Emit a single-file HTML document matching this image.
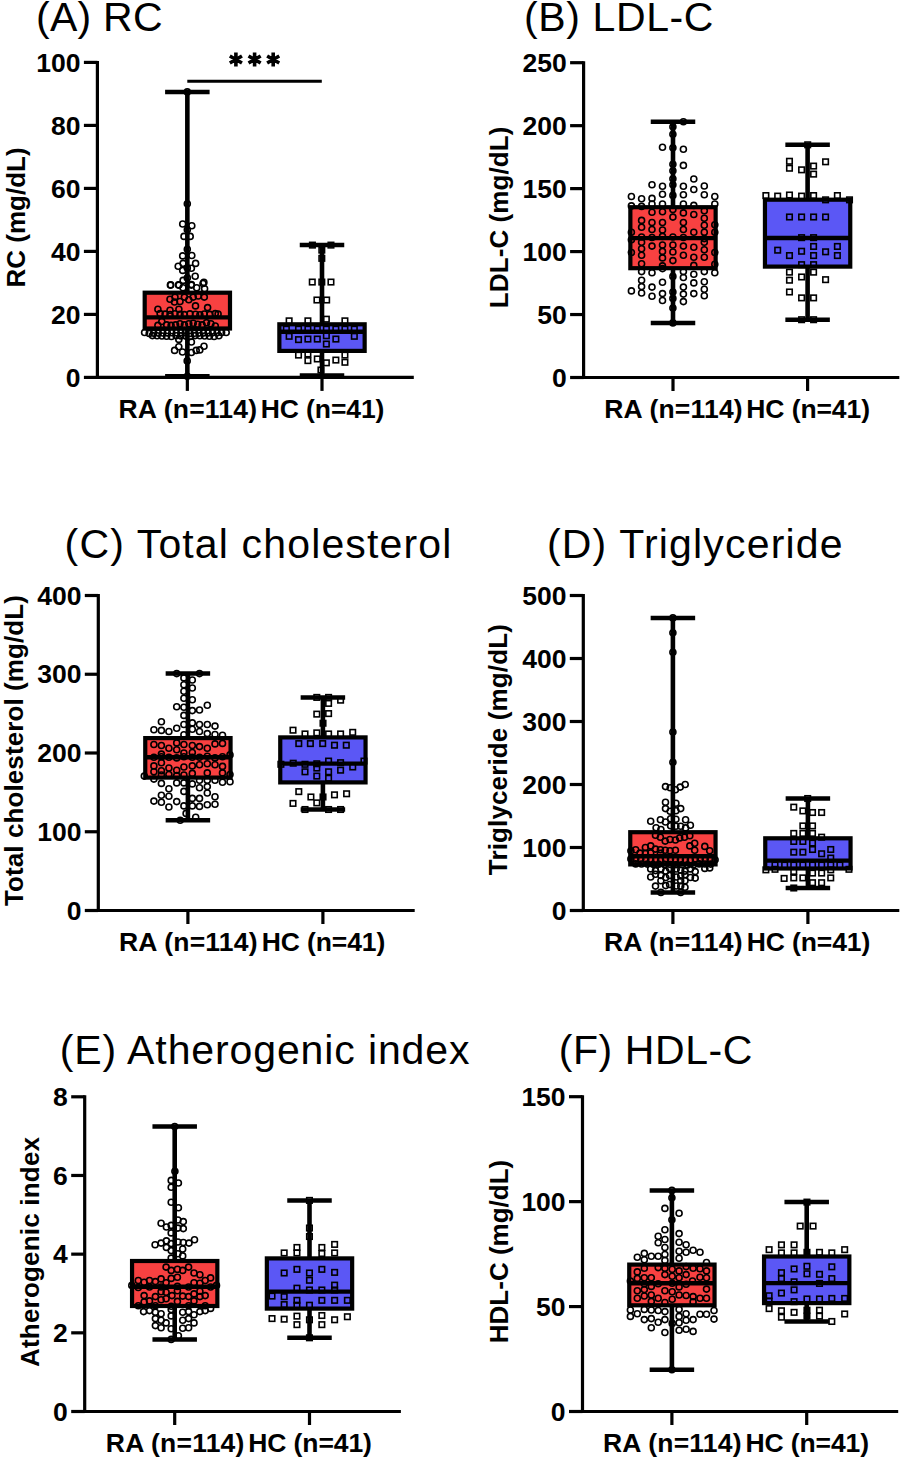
<!DOCTYPE html><html><head><meta charset="utf-8"><style>html,body{margin:0;padding:0;background:#fff;}svg{display:block;}</style></head><body>
<svg width="905" height="1464" viewBox="0 0 905 1464">
<rect width="905" height="1464" fill="#fff"/>
<text x="36.10" y="31.00" font-family="Liberation Sans, sans-serif" font-size="41" letter-spacing="0.235" fill="#000">(A) RC</text>
<text transform="translate(25.00,217.40) rotate(-90)" text-anchor="middle" font-family="Liberation Sans, sans-serif" font-weight="bold" font-size="26" letter-spacing="0" fill="#000">RC (mg/dL)</text>
<path d="M97.40 60.90V377.40H413.80" fill="none" stroke="#000" stroke-width="3.2" stroke-linejoin="miter" stroke-linecap="butt"/>
<path d="M83.90 377.40H97.40" stroke="#000" stroke-width="3.2"/>
<text x="80.50" y="386.52" text-anchor="end" font-family="Liberation Sans, sans-serif" font-weight="bold" font-size="26.5" fill="#000">0</text>
<path d="M83.90 314.40H97.40" stroke="#000" stroke-width="3.2"/>
<text x="80.50" y="323.52" text-anchor="end" font-family="Liberation Sans, sans-serif" font-weight="bold" font-size="26.5" fill="#000">20</text>
<path d="M83.90 251.40H97.40" stroke="#000" stroke-width="3.2"/>
<text x="80.50" y="260.52" text-anchor="end" font-family="Liberation Sans, sans-serif" font-weight="bold" font-size="26.5" fill="#000">40</text>
<path d="M83.90 188.40H97.40" stroke="#000" stroke-width="3.2"/>
<text x="80.50" y="197.52" text-anchor="end" font-family="Liberation Sans, sans-serif" font-weight="bold" font-size="26.5" fill="#000">60</text>
<path d="M83.90 125.40H97.40" stroke="#000" stroke-width="3.2"/>
<text x="80.50" y="134.52" text-anchor="end" font-family="Liberation Sans, sans-serif" font-weight="bold" font-size="26.5" fill="#000">80</text>
<path d="M83.90 62.40H97.40" stroke="#000" stroke-width="3.2"/>
<text x="80.50" y="71.52" text-anchor="end" font-family="Liberation Sans, sans-serif" font-weight="bold" font-size="26.5" fill="#000">100</text>
<path d="M187.35 377.40V390.90" stroke="#000" stroke-width="3.2"/>
<text x="187.85" y="417.90" text-anchor="middle" font-family="Liberation Sans, sans-serif" font-weight="bold" font-size="26.5" letter-spacing="0.2" fill="#000">RA (n=114)</text>
<path d="M322.00 377.40V390.90" stroke="#000" stroke-width="3.2"/>
<text x="322.50" y="417.90" text-anchor="middle" font-family="Liberation Sans, sans-serif" font-weight="bold" font-size="26.5" letter-spacing="-0.1" fill="#000">HC (n=41)</text>
<path d="M187.35 91.90V376.30" stroke="#000" stroke-width="4.6"/>
<path d="M165.10 91.90H209.60M165.10 376.30H209.60" stroke="#000" stroke-width="4.5"/>
<rect x="144.70" y="292.70" width="85.30" height="35.80" fill="#f84141"/>
<circle cx="187.3" cy="203.7" r="3.0" fill="none" stroke="#000" stroke-width="1.6"/>
<circle cx="182.7" cy="224.0" r="3.0" fill="none" stroke="#000" stroke-width="1.6"/>
<circle cx="191.8" cy="225.7" r="3.0" fill="none" stroke="#000" stroke-width="1.6"/>
<circle cx="187.3" cy="229.8" r="3.0" fill="none" stroke="#000" stroke-width="1.6"/>
<circle cx="184.0" cy="236.4" r="3.0" fill="none" stroke="#000" stroke-width="1.6"/>
<circle cx="190.2" cy="236.4" r="3.0" fill="none" stroke="#000" stroke-width="1.6"/>
<circle cx="187.3" cy="249.3" r="3.0" fill="none" stroke="#000" stroke-width="1.6"/>
<circle cx="182.7" cy="255.9" r="3.0" fill="none" stroke="#000" stroke-width="1.6"/>
<circle cx="191.8" cy="255.5" r="3.0" fill="none" stroke="#000" stroke-width="1.6"/>
<circle cx="183.1" cy="263.4" r="3.0" fill="none" stroke="#000" stroke-width="1.6"/>
<circle cx="195.6" cy="263.4" r="3.0" fill="none" stroke="#000" stroke-width="1.6"/>
<circle cx="178.2" cy="266.3" r="3.0" fill="none" stroke="#000" stroke-width="1.6"/>
<circle cx="191.4" cy="268.3" r="3.0" fill="none" stroke="#000" stroke-width="1.6"/>
<circle cx="187.3" cy="267.9" r="3.0" fill="none" stroke="#000" stroke-width="1.6"/>
<circle cx="182.7" cy="270.4" r="3.0" fill="none" stroke="#000" stroke-width="1.6"/>
<circle cx="195.2" cy="276.2" r="3.0" fill="none" stroke="#000" stroke-width="1.6"/>
<circle cx="183.1" cy="280.4" r="3.0" fill="none" stroke="#000" stroke-width="1.6"/>
<circle cx="187.3" cy="277.9" r="3.0" fill="none" stroke="#000" stroke-width="1.6"/>
<circle cx="170.7" cy="284.9" r="3.0" fill="none" stroke="#000" stroke-width="1.6"/>
<circle cx="178.6" cy="284.9" r="3.0" fill="none" stroke="#000" stroke-width="1.6"/>
<circle cx="191.4" cy="284.5" r="3.0" fill="none" stroke="#000" stroke-width="1.6"/>
<circle cx="203.9" cy="282.4" r="3.0" fill="none" stroke="#000" stroke-width="1.6"/>
<circle cx="170.4" cy="285.1" r="3.0" fill="none" stroke="#000" stroke-width="1.6"/>
<circle cx="178.8" cy="285.1" r="3.0" fill="none" stroke="#000" stroke-width="1.6"/>
<circle cx="191.4" cy="285.1" r="3.0" fill="none" stroke="#000" stroke-width="1.6"/>
<circle cx="203.0" cy="283.5" r="3.0" fill="none" stroke="#000" stroke-width="1.6"/>
<circle cx="204.6" cy="288.8" r="3.0" fill="none" stroke="#000" stroke-width="1.6"/>
<circle cx="183.0" cy="287.7" r="3.0" fill="none" stroke="#000" stroke-width="1.6"/>
<circle cx="196.7" cy="287.7" r="3.0" fill="none" stroke="#000" stroke-width="1.6"/>
<circle cx="170.0" cy="299.3" r="3.0" fill="none" stroke="#000" stroke-width="1.6"/>
<circle cx="175.0" cy="297.1" r="3.0" fill="none" stroke="#000" stroke-width="1.6"/>
<circle cx="180.0" cy="301.5" r="3.0" fill="none" stroke="#000" stroke-width="1.6"/>
<circle cx="184.4" cy="297.1" r="3.0" fill="none" stroke="#000" stroke-width="1.6"/>
<circle cx="188.8" cy="299.8" r="3.0" fill="none" stroke="#000" stroke-width="1.6"/>
<circle cx="193.2" cy="297.1" r="3.0" fill="none" stroke="#000" stroke-width="1.6"/>
<circle cx="198.2" cy="296.0" r="3.0" fill="none" stroke="#000" stroke-width="1.6"/>
<circle cx="204.3" cy="297.1" r="3.0" fill="none" stroke="#000" stroke-width="1.6"/>
<circle cx="195.5" cy="305.9" r="3.0" fill="none" stroke="#000" stroke-width="1.6"/>
<circle cx="174.5" cy="302.0" r="3.0" fill="none" stroke="#000" stroke-width="1.6"/>
<circle cx="157.9" cy="309.2" r="3.0" fill="none" stroke="#000" stroke-width="1.6"/>
<circle cx="170.0" cy="310.3" r="3.0" fill="none" stroke="#000" stroke-width="1.6"/>
<circle cx="178.9" cy="309.2" r="3.0" fill="none" stroke="#000" stroke-width="1.6"/>
<circle cx="207.6" cy="307.6" r="3.0" fill="none" stroke="#000" stroke-width="1.6"/>
<circle cx="160.1" cy="313.6" r="3.0" fill="none" stroke="#000" stroke-width="1.6"/>
<circle cx="165.1" cy="314.1" r="3.0" fill="none" stroke="#000" stroke-width="1.6"/>
<circle cx="170.0" cy="314.5" r="3.0" fill="none" stroke="#000" stroke-width="1.6"/>
<circle cx="175.0" cy="313.8" r="3.0" fill="none" stroke="#000" stroke-width="1.6"/>
<circle cx="180.0" cy="314.2" r="3.0" fill="none" stroke="#000" stroke-width="1.6"/>
<circle cx="184.4" cy="314.6" r="3.0" fill="none" stroke="#000" stroke-width="1.6"/>
<circle cx="189.9" cy="313.9" r="3.0" fill="none" stroke="#000" stroke-width="1.6"/>
<circle cx="195.5" cy="314.3" r="3.0" fill="none" stroke="#000" stroke-width="1.6"/>
<circle cx="199.9" cy="314.8" r="3.0" fill="none" stroke="#000" stroke-width="1.6"/>
<circle cx="204.3" cy="314.0" r="3.0" fill="none" stroke="#000" stroke-width="1.6"/>
<circle cx="209.8" cy="314.4" r="3.0" fill="none" stroke="#000" stroke-width="1.6"/>
<circle cx="215.3" cy="313.6" r="3.0" fill="none" stroke="#000" stroke-width="1.6"/>
<circle cx="218.1" cy="314.1" r="3.0" fill="none" stroke="#000" stroke-width="1.6"/>
<circle cx="157.9" cy="325.4" r="3.0" fill="none" stroke="#000" stroke-width="1.6"/>
<circle cx="161.8" cy="321.5" r="3.0" fill="none" stroke="#000" stroke-width="1.6"/>
<circle cx="166.7" cy="324.9" r="3.0" fill="none" stroke="#000" stroke-width="1.6"/>
<circle cx="171.1" cy="325.4" r="3.0" fill="none" stroke="#000" stroke-width="1.6"/>
<circle cx="175.6" cy="324.9" r="3.0" fill="none" stroke="#000" stroke-width="1.6"/>
<circle cx="180.0" cy="323.8" r="3.0" fill="none" stroke="#000" stroke-width="1.6"/>
<circle cx="184.4" cy="324.9" r="3.0" fill="none" stroke="#000" stroke-width="1.6"/>
<circle cx="188.8" cy="323.8" r="3.0" fill="none" stroke="#000" stroke-width="1.6"/>
<circle cx="193.2" cy="323.2" r="3.0" fill="none" stroke="#000" stroke-width="1.6"/>
<circle cx="197.7" cy="324.3" r="3.0" fill="none" stroke="#000" stroke-width="1.6"/>
<circle cx="202.1" cy="324.9" r="3.0" fill="none" stroke="#000" stroke-width="1.6"/>
<circle cx="206.5" cy="322.7" r="3.0" fill="none" stroke="#000" stroke-width="1.6"/>
<circle cx="210.9" cy="323.8" r="3.0" fill="none" stroke="#000" stroke-width="1.6"/>
<circle cx="215.3" cy="326.0" r="3.0" fill="none" stroke="#000" stroke-width="1.6"/>
<circle cx="144.6" cy="332.5" r="3.0" fill="none" stroke="#000" stroke-width="1.6"/>
<circle cx="149.2" cy="333.4" r="3.0" fill="none" stroke="#000" stroke-width="1.6"/>
<circle cx="153.7" cy="333.3" r="3.0" fill="none" stroke="#000" stroke-width="1.6"/>
<circle cx="158.2" cy="333.1" r="3.0" fill="none" stroke="#000" stroke-width="1.6"/>
<circle cx="162.8" cy="333.0" r="3.0" fill="none" stroke="#000" stroke-width="1.6"/>
<circle cx="167.3" cy="332.9" r="3.0" fill="none" stroke="#000" stroke-width="1.6"/>
<circle cx="171.8" cy="332.8" r="3.0" fill="none" stroke="#000" stroke-width="1.6"/>
<circle cx="176.3" cy="332.7" r="3.0" fill="none" stroke="#000" stroke-width="1.6"/>
<circle cx="180.9" cy="332.6" r="3.0" fill="none" stroke="#000" stroke-width="1.6"/>
<circle cx="185.4" cy="332.5" r="3.0" fill="none" stroke="#000" stroke-width="1.6"/>
<circle cx="189.9" cy="333.4" r="3.0" fill="none" stroke="#000" stroke-width="1.6"/>
<circle cx="194.5" cy="333.3" r="3.0" fill="none" stroke="#000" stroke-width="1.6"/>
<circle cx="199.0" cy="333.1" r="3.0" fill="none" stroke="#000" stroke-width="1.6"/>
<circle cx="203.5" cy="333.0" r="3.0" fill="none" stroke="#000" stroke-width="1.6"/>
<circle cx="208.1" cy="332.9" r="3.0" fill="none" stroke="#000" stroke-width="1.6"/>
<circle cx="212.6" cy="332.8" r="3.0" fill="none" stroke="#000" stroke-width="1.6"/>
<circle cx="217.1" cy="332.7" r="3.0" fill="none" stroke="#000" stroke-width="1.6"/>
<circle cx="221.6" cy="332.6" r="3.0" fill="none" stroke="#000" stroke-width="1.6"/>
<circle cx="226.2" cy="332.5" r="3.0" fill="none" stroke="#000" stroke-width="1.6"/>
<circle cx="152.4" cy="335.6" r="3.0" fill="none" stroke="#000" stroke-width="1.6"/>
<circle cx="157.1" cy="335.8" r="3.0" fill="none" stroke="#000" stroke-width="1.6"/>
<circle cx="161.9" cy="336.0" r="3.0" fill="none" stroke="#000" stroke-width="1.6"/>
<circle cx="166.6" cy="336.2" r="3.0" fill="none" stroke="#000" stroke-width="1.6"/>
<circle cx="171.4" cy="336.5" r="3.0" fill="none" stroke="#000" stroke-width="1.6"/>
<circle cx="176.1" cy="335.7" r="3.0" fill="none" stroke="#000" stroke-width="1.6"/>
<circle cx="180.9" cy="335.9" r="3.0" fill="none" stroke="#000" stroke-width="1.6"/>
<circle cx="185.6" cy="336.1" r="3.0" fill="none" stroke="#000" stroke-width="1.6"/>
<circle cx="190.4" cy="336.4" r="3.0" fill="none" stroke="#000" stroke-width="1.6"/>
<circle cx="195.1" cy="335.6" r="3.0" fill="none" stroke="#000" stroke-width="1.6"/>
<circle cx="199.9" cy="335.8" r="3.0" fill="none" stroke="#000" stroke-width="1.6"/>
<circle cx="204.6" cy="336.0" r="3.0" fill="none" stroke="#000" stroke-width="1.6"/>
<circle cx="209.4" cy="336.2" r="3.0" fill="none" stroke="#000" stroke-width="1.6"/>
<circle cx="214.1" cy="336.5" r="3.0" fill="none" stroke="#000" stroke-width="1.6"/>
<circle cx="218.9" cy="335.7" r="3.0" fill="none" stroke="#000" stroke-width="1.6"/>
<circle cx="178.8" cy="339.4" r="3.0" fill="none" stroke="#000" stroke-width="1.6"/>
<circle cx="191.4" cy="342.0" r="3.0" fill="none" stroke="#000" stroke-width="1.6"/>
<circle cx="178.8" cy="346.8" r="3.0" fill="none" stroke="#000" stroke-width="1.6"/>
<circle cx="174.6" cy="350.4" r="3.0" fill="none" stroke="#000" stroke-width="1.6"/>
<circle cx="182.5" cy="352.0" r="3.0" fill="none" stroke="#000" stroke-width="1.6"/>
<circle cx="191.4" cy="352.5" r="3.0" fill="none" stroke="#000" stroke-width="1.6"/>
<circle cx="196.2" cy="350.4" r="3.0" fill="none" stroke="#000" stroke-width="1.6"/>
<circle cx="199.8" cy="349.9" r="3.0" fill="none" stroke="#000" stroke-width="1.6"/>
<circle cx="204.0" cy="346.2" r="3.0" fill="none" stroke="#000" stroke-width="1.6"/>
<circle cx="187.2" cy="360.9" r="3.0" fill="none" stroke="#000" stroke-width="1.6"/>
<circle cx="187.3" cy="91.9" r="3.0" fill="none" stroke="#000" stroke-width="1.6"/>
<circle cx="187.3" cy="376.3" r="3.0" fill="none" stroke="#000" stroke-width="1.6"/>
<rect x="144.70" y="292.70" width="85.30" height="35.80" fill="none" stroke="#000" stroke-width="4.2"/>
<path d="M144.70 317.40H230.00" stroke="#000" stroke-width="4.4"/>
<path d="M322.00 245.10V375.60" stroke="#000" stroke-width="4.6"/>
<path d="M299.75 245.10H344.25M299.75 375.60H344.25" stroke="#000" stroke-width="4.5"/>
<rect x="279.35" y="324.30" width="85.30" height="26.60" fill="#5b57f5"/>
<rect x="309.66" y="242.35" width="5.5" height="5.5" fill="none" stroke="#000" stroke-width="1.6"/>
<rect x="328.20" y="242.35" width="5.5" height="5.5" fill="none" stroke="#000" stroke-width="1.6"/>
<rect x="319.07" y="247.34" width="5.5" height="5.5" fill="none" stroke="#000" stroke-width="1.6"/>
<rect x="319.07" y="255.60" width="5.5" height="5.5" fill="none" stroke="#000" stroke-width="1.6"/>
<rect x="309.52" y="279.30" width="5.5" height="5.5" fill="none" stroke="#000" stroke-width="1.6"/>
<rect x="319.07" y="279.30" width="5.5" height="5.5" fill="none" stroke="#000" stroke-width="1.6"/>
<rect x="328.20" y="279.30" width="5.5" height="5.5" fill="none" stroke="#000" stroke-width="1.6"/>
<rect x="314.19" y="297.26" width="5.5" height="5.5" fill="none" stroke="#000" stroke-width="1.6"/>
<rect x="323.89" y="297.26" width="5.5" height="5.5" fill="none" stroke="#000" stroke-width="1.6"/>
<rect x="286.38" y="318.09" width="5.5" height="5.5" fill="none" stroke="#000" stroke-width="1.6"/>
<rect x="305.16" y="318.09" width="5.5" height="5.5" fill="none" stroke="#000" stroke-width="1.6"/>
<rect x="323.61" y="316.43" width="5.5" height="5.5" fill="none" stroke="#000" stroke-width="1.6"/>
<rect x="342.18" y="318.09" width="5.5" height="5.5" fill="none" stroke="#000" stroke-width="1.6"/>
<rect x="283.61" y="326.38" width="5.5" height="5.5" fill="none" stroke="#000" stroke-width="1.6"/>
<rect x="295.77" y="326.38" width="5.5" height="5.5" fill="none" stroke="#000" stroke-width="1.6"/>
<rect x="305.16" y="326.38" width="5.5" height="5.5" fill="none" stroke="#000" stroke-width="1.6"/>
<rect x="314.55" y="326.38" width="5.5" height="5.5" fill="none" stroke="#000" stroke-width="1.6"/>
<rect x="323.61" y="326.38" width="5.5" height="5.5" fill="none" stroke="#000" stroke-width="1.6"/>
<rect x="333.12" y="326.38" width="5.5" height="5.5" fill="none" stroke="#000" stroke-width="1.6"/>
<rect x="342.18" y="326.38" width="5.5" height="5.5" fill="none" stroke="#000" stroke-width="1.6"/>
<rect x="351.57" y="326.38" width="5.5" height="5.5" fill="none" stroke="#000" stroke-width="1.6"/>
<rect x="286.38" y="333.56" width="5.5" height="5.5" fill="none" stroke="#000" stroke-width="1.6"/>
<rect x="295.77" y="336.87" width="5.5" height="5.5" fill="none" stroke="#000" stroke-width="1.6"/>
<rect x="305.16" y="336.32" width="5.5" height="5.5" fill="none" stroke="#000" stroke-width="1.6"/>
<rect x="314.55" y="336.32" width="5.5" height="5.5" fill="none" stroke="#000" stroke-width="1.6"/>
<rect x="323.61" y="333.01" width="5.5" height="5.5" fill="none" stroke="#000" stroke-width="1.6"/>
<rect x="333.12" y="336.32" width="5.5" height="5.5" fill="none" stroke="#000" stroke-width="1.6"/>
<rect x="351.57" y="333.56" width="5.5" height="5.5" fill="none" stroke="#000" stroke-width="1.6"/>
<rect x="323.61" y="341.29" width="5.5" height="5.5" fill="none" stroke="#000" stroke-width="1.6"/>
<rect x="295.77" y="352.34" width="5.5" height="5.5" fill="none" stroke="#000" stroke-width="1.6"/>
<rect x="305.16" y="351.24" width="5.5" height="5.5" fill="none" stroke="#000" stroke-width="1.6"/>
<rect x="342.18" y="352.34" width="5.5" height="5.5" fill="none" stroke="#000" stroke-width="1.6"/>
<rect x="305.16" y="357.87" width="5.5" height="5.5" fill="none" stroke="#000" stroke-width="1.6"/>
<rect x="314.55" y="356.21" width="5.5" height="5.5" fill="none" stroke="#000" stroke-width="1.6"/>
<rect x="323.61" y="360.08" width="5.5" height="5.5" fill="none" stroke="#000" stroke-width="1.6"/>
<rect x="333.12" y="357.32" width="5.5" height="5.5" fill="none" stroke="#000" stroke-width="1.6"/>
<rect x="342.18" y="359.53" width="5.5" height="5.5" fill="none" stroke="#000" stroke-width="1.6"/>
<rect x="318.20" y="367.26" width="5.5" height="5.5" fill="none" stroke="#000" stroke-width="1.6"/>
<rect x="279.35" y="324.30" width="85.30" height="26.60" fill="none" stroke="#000" stroke-width="4.2"/>
<path d="M279.35 331.80H364.65" stroke="#000" stroke-width="4.4"/>
<text x="524.00" y="31.10" font-family="Liberation Sans, sans-serif" font-size="41" letter-spacing="0.616" fill="#000">(B) LDL-C</text>
<text transform="translate(507.50,217.30) rotate(-90)" text-anchor="middle" font-family="Liberation Sans, sans-serif" font-weight="bold" font-size="26" letter-spacing="0.1" fill="#000">LDL-C (mg/dL)</text>
<path d="M583.60 61.20V377.50H899.30" fill="none" stroke="#000" stroke-width="3.2" stroke-linejoin="miter" stroke-linecap="butt"/>
<path d="M570.10 377.50H583.60" stroke="#000" stroke-width="3.2"/>
<text x="566.70" y="386.62" text-anchor="end" font-family="Liberation Sans, sans-serif" font-weight="bold" font-size="26.5" fill="#000">0</text>
<path d="M570.10 314.54H583.60" stroke="#000" stroke-width="3.2"/>
<text x="566.70" y="323.66" text-anchor="end" font-family="Liberation Sans, sans-serif" font-weight="bold" font-size="26.5" fill="#000">50</text>
<path d="M570.10 251.58H583.60" stroke="#000" stroke-width="3.2"/>
<text x="566.70" y="260.70" text-anchor="end" font-family="Liberation Sans, sans-serif" font-weight="bold" font-size="26.5" fill="#000">100</text>
<path d="M570.10 188.62H583.60" stroke="#000" stroke-width="3.2"/>
<text x="566.70" y="197.74" text-anchor="end" font-family="Liberation Sans, sans-serif" font-weight="bold" font-size="26.5" fill="#000">150</text>
<path d="M570.10 125.66H583.60" stroke="#000" stroke-width="3.2"/>
<text x="566.70" y="134.78" text-anchor="end" font-family="Liberation Sans, sans-serif" font-weight="bold" font-size="26.5" fill="#000">200</text>
<path d="M570.10 62.70H583.60" stroke="#000" stroke-width="3.2"/>
<text x="566.70" y="71.82" text-anchor="end" font-family="Liberation Sans, sans-serif" font-weight="bold" font-size="26.5" fill="#000">250</text>
<path d="M673.00 377.50V391.00" stroke="#000" stroke-width="3.2"/>
<text x="673.50" y="418.00" text-anchor="middle" font-family="Liberation Sans, sans-serif" font-weight="bold" font-size="26.5" letter-spacing="0.2" fill="#000">RA (n=114)</text>
<path d="M807.60 377.50V391.00" stroke="#000" stroke-width="3.2"/>
<text x="808.10" y="418.00" text-anchor="middle" font-family="Liberation Sans, sans-serif" font-weight="bold" font-size="26.5" letter-spacing="-0.1" fill="#000">HC (n=41)</text>
<path d="M673.00 121.80V322.90" stroke="#000" stroke-width="4.6"/>
<path d="M650.75 121.80H695.25M650.75 322.90H695.25" stroke="#000" stroke-width="4.5"/>
<rect x="630.35" y="207.20" width="85.30" height="61.00" fill="#f84141"/>
<circle cx="683.4" cy="121.8" r="3.0" fill="none" stroke="#000" stroke-width="1.6"/>
<circle cx="672.9" cy="126.8" r="3.0" fill="none" stroke="#000" stroke-width="1.6"/>
<circle cx="672.9" cy="134.3" r="3.0" fill="none" stroke="#000" stroke-width="1.6"/>
<circle cx="672.9" cy="147.7" r="3.0" fill="none" stroke="#000" stroke-width="1.6"/>
<circle cx="672.9" cy="164.3" r="3.0" fill="none" stroke="#000" stroke-width="1.6"/>
<circle cx="672.9" cy="170.7" r="3.0" fill="none" stroke="#000" stroke-width="1.6"/>
<circle cx="672.9" cy="178.8" r="3.0" fill="none" stroke="#000" stroke-width="1.6"/>
<circle cx="672.9" cy="184.7" r="3.0" fill="none" stroke="#000" stroke-width="1.6"/>
<circle cx="672.9" cy="195.4" r="3.0" fill="none" stroke="#000" stroke-width="1.6"/>
<circle cx="662.5" cy="147.2" r="3.0" fill="none" stroke="#000" stroke-width="1.6"/>
<circle cx="683.4" cy="149.3" r="3.0" fill="none" stroke="#000" stroke-width="1.6"/>
<circle cx="683.4" cy="165.4" r="3.0" fill="none" stroke="#000" stroke-width="1.6"/>
<circle cx="693.8" cy="179.0" r="3.0" fill="none" stroke="#000" stroke-width="1.6"/>
<circle cx="652.0" cy="184.7" r="3.0" fill="none" stroke="#000" stroke-width="1.6"/>
<circle cx="662.5" cy="186.3" r="3.0" fill="none" stroke="#000" stroke-width="1.6"/>
<circle cx="683.4" cy="186.3" r="3.0" fill="none" stroke="#000" stroke-width="1.6"/>
<circle cx="693.8" cy="189.5" r="3.0" fill="none" stroke="#000" stroke-width="1.6"/>
<circle cx="704.3" cy="186.0" r="3.0" fill="none" stroke="#000" stroke-width="1.6"/>
<circle cx="662.5" cy="194.3" r="3.0" fill="none" stroke="#000" stroke-width="1.6"/>
<circle cx="683.4" cy="194.8" r="3.0" fill="none" stroke="#000" stroke-width="1.6"/>
<circle cx="704.3" cy="194.8" r="3.0" fill="none" stroke="#000" stroke-width="1.6"/>
<circle cx="631.4" cy="196.5" r="3.0" fill="none" stroke="#000" stroke-width="1.6"/>
<circle cx="641.6" cy="198.8" r="3.0" fill="none" stroke="#000" stroke-width="1.6"/>
<circle cx="652.0" cy="198.4" r="3.0" fill="none" stroke="#000" stroke-width="1.6"/>
<circle cx="714.8" cy="196.5" r="3.0" fill="none" stroke="#000" stroke-width="1.6"/>
<circle cx="652.0" cy="204.0" r="3.0" fill="none" stroke="#000" stroke-width="1.6"/>
<circle cx="662.5" cy="204.0" r="3.0" fill="none" stroke="#000" stroke-width="1.6"/>
<circle cx="683.4" cy="204.0" r="3.0" fill="none" stroke="#000" stroke-width="1.6"/>
<circle cx="714.8" cy="204.0" r="3.0" fill="none" stroke="#000" stroke-width="1.6"/>
<circle cx="631.4" cy="205.9" r="3.0" fill="none" stroke="#000" stroke-width="1.6"/>
<circle cx="641.6" cy="206.4" r="3.0" fill="none" stroke="#000" stroke-width="1.6"/>
<circle cx="693.8" cy="205.4" r="3.0" fill="none" stroke="#000" stroke-width="1.6"/>
<circle cx="631.4" cy="232.2" r="3.0" fill="none" stroke="#000" stroke-width="1.6"/>
<circle cx="641.6" cy="220.4" r="3.0" fill="none" stroke="#000" stroke-width="1.6"/>
<circle cx="641.6" cy="227.3" r="3.0" fill="none" stroke="#000" stroke-width="1.6"/>
<circle cx="652.0" cy="212.3" r="3.0" fill="none" stroke="#000" stroke-width="1.6"/>
<circle cx="652.0" cy="222.5" r="3.0" fill="none" stroke="#000" stroke-width="1.6"/>
<circle cx="652.0" cy="229.5" r="3.0" fill="none" stroke="#000" stroke-width="1.6"/>
<circle cx="662.5" cy="211.8" r="3.0" fill="none" stroke="#000" stroke-width="1.6"/>
<circle cx="662.5" cy="222.5" r="3.0" fill="none" stroke="#000" stroke-width="1.6"/>
<circle cx="662.5" cy="230.0" r="3.0" fill="none" stroke="#000" stroke-width="1.6"/>
<circle cx="672.9" cy="209.6" r="3.0" fill="none" stroke="#000" stroke-width="1.6"/>
<circle cx="672.9" cy="217.1" r="3.0" fill="none" stroke="#000" stroke-width="1.6"/>
<circle cx="683.4" cy="212.9" r="3.0" fill="none" stroke="#000" stroke-width="1.6"/>
<circle cx="683.4" cy="222.5" r="3.0" fill="none" stroke="#000" stroke-width="1.6"/>
<circle cx="683.4" cy="229.5" r="3.0" fill="none" stroke="#000" stroke-width="1.6"/>
<circle cx="693.8" cy="214.5" r="3.0" fill="none" stroke="#000" stroke-width="1.6"/>
<circle cx="693.8" cy="232.2" r="3.0" fill="none" stroke="#000" stroke-width="1.6"/>
<circle cx="704.3" cy="210.7" r="3.0" fill="none" stroke="#000" stroke-width="1.6"/>
<circle cx="704.3" cy="218.2" r="3.0" fill="none" stroke="#000" stroke-width="1.6"/>
<circle cx="704.3" cy="225.2" r="3.0" fill="none" stroke="#000" stroke-width="1.6"/>
<circle cx="704.3" cy="232.2" r="3.0" fill="none" stroke="#000" stroke-width="1.6"/>
<circle cx="714.8" cy="224.7" r="3.0" fill="none" stroke="#000" stroke-width="1.6"/>
<circle cx="714.8" cy="232.2" r="3.0" fill="none" stroke="#000" stroke-width="1.6"/>
<circle cx="641.6" cy="237.0" r="3.0" fill="none" stroke="#000" stroke-width="1.6"/>
<circle cx="652.0" cy="237.5" r="3.0" fill="none" stroke="#000" stroke-width="1.6"/>
<circle cx="662.5" cy="236.4" r="3.0" fill="none" stroke="#000" stroke-width="1.6"/>
<circle cx="672.9" cy="237.0" r="3.0" fill="none" stroke="#000" stroke-width="1.6"/>
<circle cx="683.4" cy="237.5" r="3.0" fill="none" stroke="#000" stroke-width="1.6"/>
<circle cx="704.3" cy="238.6" r="3.0" fill="none" stroke="#000" stroke-width="1.6"/>
<circle cx="631.4" cy="239.7" r="3.0" fill="none" stroke="#000" stroke-width="1.6"/>
<circle cx="631.4" cy="252.5" r="3.0" fill="none" stroke="#000" stroke-width="1.6"/>
<circle cx="641.6" cy="242.3" r="3.0" fill="none" stroke="#000" stroke-width="1.6"/>
<circle cx="641.6" cy="248.8" r="3.0" fill="none" stroke="#000" stroke-width="1.6"/>
<circle cx="641.6" cy="255.2" r="3.0" fill="none" stroke="#000" stroke-width="1.6"/>
<circle cx="641.6" cy="263.8" r="3.0" fill="none" stroke="#000" stroke-width="1.6"/>
<circle cx="652.0" cy="246.1" r="3.0" fill="none" stroke="#000" stroke-width="1.6"/>
<circle cx="662.5" cy="245.0" r="3.0" fill="none" stroke="#000" stroke-width="1.6"/>
<circle cx="662.5" cy="251.4" r="3.0" fill="none" stroke="#000" stroke-width="1.6"/>
<circle cx="662.5" cy="257.9" r="3.0" fill="none" stroke="#000" stroke-width="1.6"/>
<circle cx="662.5" cy="265.9" r="3.0" fill="none" stroke="#000" stroke-width="1.6"/>
<circle cx="672.9" cy="245.0" r="3.0" fill="none" stroke="#000" stroke-width="1.6"/>
<circle cx="672.9" cy="252.0" r="3.0" fill="none" stroke="#000" stroke-width="1.6"/>
<circle cx="672.9" cy="260.6" r="3.0" fill="none" stroke="#000" stroke-width="1.6"/>
<circle cx="683.4" cy="246.1" r="3.0" fill="none" stroke="#000" stroke-width="1.6"/>
<circle cx="683.4" cy="255.2" r="3.0" fill="none" stroke="#000" stroke-width="1.6"/>
<circle cx="693.8" cy="247.2" r="3.0" fill="none" stroke="#000" stroke-width="1.6"/>
<circle cx="693.8" cy="257.3" r="3.0" fill="none" stroke="#000" stroke-width="1.6"/>
<circle cx="693.8" cy="265.4" r="3.0" fill="none" stroke="#000" stroke-width="1.6"/>
<circle cx="704.3" cy="242.3" r="3.0" fill="none" stroke="#000" stroke-width="1.6"/>
<circle cx="704.3" cy="249.8" r="3.0" fill="none" stroke="#000" stroke-width="1.6"/>
<circle cx="704.3" cy="257.3" r="3.0" fill="none" stroke="#000" stroke-width="1.6"/>
<circle cx="714.8" cy="252.5" r="3.0" fill="none" stroke="#000" stroke-width="1.6"/>
<circle cx="714.8" cy="264.3" r="3.0" fill="none" stroke="#000" stroke-width="1.6"/>
<circle cx="662.5" cy="268.6" r="3.0" fill="none" stroke="#000" stroke-width="1.6"/>
<circle cx="641.6" cy="271.6" r="3.0" fill="none" stroke="#000" stroke-width="1.6"/>
<circle cx="652.0" cy="272.7" r="3.0" fill="none" stroke="#000" stroke-width="1.6"/>
<circle cx="683.4" cy="271.6" r="3.0" fill="none" stroke="#000" stroke-width="1.6"/>
<circle cx="693.8" cy="274.3" r="3.0" fill="none" stroke="#000" stroke-width="1.6"/>
<circle cx="704.3" cy="271.6" r="3.0" fill="none" stroke="#000" stroke-width="1.6"/>
<circle cx="714.8" cy="272.7" r="3.0" fill="none" stroke="#000" stroke-width="1.6"/>
<circle cx="641.6" cy="280.2" r="3.0" fill="none" stroke="#000" stroke-width="1.6"/>
<circle cx="641.6" cy="286.6" r="3.0" fill="none" stroke="#000" stroke-width="1.6"/>
<circle cx="641.6" cy="293.0" r="3.0" fill="none" stroke="#000" stroke-width="1.6"/>
<circle cx="631.4" cy="290.9" r="3.0" fill="none" stroke="#000" stroke-width="1.6"/>
<circle cx="652.0" cy="287.1" r="3.0" fill="none" stroke="#000" stroke-width="1.6"/>
<circle cx="652.0" cy="296.3" r="3.0" fill="none" stroke="#000" stroke-width="1.6"/>
<circle cx="662.5" cy="282.3" r="3.0" fill="none" stroke="#000" stroke-width="1.6"/>
<circle cx="662.5" cy="293.6" r="3.0" fill="none" stroke="#000" stroke-width="1.6"/>
<circle cx="662.5" cy="300.5" r="3.0" fill="none" stroke="#000" stroke-width="1.6"/>
<circle cx="672.9" cy="276.4" r="3.0" fill="none" stroke="#000" stroke-width="1.6"/>
<circle cx="672.9" cy="292.0" r="3.0" fill="none" stroke="#000" stroke-width="1.6"/>
<circle cx="672.9" cy="298.4" r="3.0" fill="none" stroke="#000" stroke-width="1.6"/>
<circle cx="672.9" cy="308.0" r="3.0" fill="none" stroke="#000" stroke-width="1.6"/>
<circle cx="672.9" cy="322.9" r="3.0" fill="none" stroke="#000" stroke-width="1.6"/>
<circle cx="683.4" cy="277.5" r="3.0" fill="none" stroke="#000" stroke-width="1.6"/>
<circle cx="683.4" cy="287.1" r="3.0" fill="none" stroke="#000" stroke-width="1.6"/>
<circle cx="683.4" cy="294.1" r="3.0" fill="none" stroke="#000" stroke-width="1.6"/>
<circle cx="683.4" cy="301.6" r="3.0" fill="none" stroke="#000" stroke-width="1.6"/>
<circle cx="693.8" cy="282.9" r="3.0" fill="none" stroke="#000" stroke-width="1.6"/>
<circle cx="693.8" cy="293.6" r="3.0" fill="none" stroke="#000" stroke-width="1.6"/>
<circle cx="704.3" cy="281.8" r="3.0" fill="none" stroke="#000" stroke-width="1.6"/>
<circle cx="704.3" cy="289.3" r="3.0" fill="none" stroke="#000" stroke-width="1.6"/>
<circle cx="704.3" cy="295.7" r="3.0" fill="none" stroke="#000" stroke-width="1.6"/>
<rect x="630.35" y="207.20" width="85.30" height="61.00" fill="none" stroke="#000" stroke-width="4.2"/>
<path d="M630.35 238.10H715.65" stroke="#000" stroke-width="4.4"/>
<path d="M807.60 144.80V319.70" stroke="#000" stroke-width="4.6"/>
<path d="M785.35 144.80H829.85M785.35 319.70H829.85" stroke="#000" stroke-width="4.5"/>
<rect x="764.95" y="199.70" width="85.30" height="66.90" fill="#5b57f5"/>
<rect x="804.95" y="142.05" width="5.5" height="5.5" fill="none" stroke="#000" stroke-width="1.6"/>
<rect x="786.72" y="158.51" width="5.5" height="5.5" fill="none" stroke="#000" stroke-width="1.6"/>
<rect x="786.72" y="165.48" width="5.5" height="5.5" fill="none" stroke="#000" stroke-width="1.6"/>
<rect x="798.84" y="167.08" width="5.5" height="5.5" fill="none" stroke="#000" stroke-width="1.6"/>
<rect x="810.84" y="163.33" width="5.5" height="5.5" fill="none" stroke="#000" stroke-width="1.6"/>
<rect x="810.84" y="171.37" width="5.5" height="5.5" fill="none" stroke="#000" stroke-width="1.6"/>
<rect x="822.84" y="159.05" width="5.5" height="5.5" fill="none" stroke="#000" stroke-width="1.6"/>
<rect x="763.14" y="192.81" width="5.5" height="5.5" fill="none" stroke="#000" stroke-width="1.6"/>
<rect x="774.93" y="193.34" width="5.5" height="5.5" fill="none" stroke="#000" stroke-width="1.6"/>
<rect x="786.72" y="192.27" width="5.5" height="5.5" fill="none" stroke="#000" stroke-width="1.6"/>
<rect x="798.84" y="193.34" width="5.5" height="5.5" fill="none" stroke="#000" stroke-width="1.6"/>
<rect x="810.84" y="192.81" width="5.5" height="5.5" fill="none" stroke="#000" stroke-width="1.6"/>
<rect x="834.63" y="192.81" width="5.5" height="5.5" fill="none" stroke="#000" stroke-width="1.6"/>
<rect x="822.84" y="197.09" width="5.5" height="5.5" fill="none" stroke="#000" stroke-width="1.6"/>
<rect x="846.75" y="197.09" width="5.5" height="5.5" fill="none" stroke="#000" stroke-width="1.6"/>
<rect x="786.72" y="214.24" width="5.5" height="5.5" fill="none" stroke="#000" stroke-width="1.6"/>
<rect x="798.84" y="214.24" width="5.5" height="5.5" fill="none" stroke="#000" stroke-width="1.6"/>
<rect x="810.84" y="214.24" width="5.5" height="5.5" fill="none" stroke="#000" stroke-width="1.6"/>
<rect x="822.84" y="214.24" width="5.5" height="5.5" fill="none" stroke="#000" stroke-width="1.6"/>
<rect x="798.84" y="234.90" width="5.5" height="5.5" fill="none" stroke="#000" stroke-width="1.6"/>
<rect x="810.84" y="234.90" width="5.5" height="5.5" fill="none" stroke="#000" stroke-width="1.6"/>
<rect x="774.93" y="247.44" width="5.5" height="5.5" fill="none" stroke="#000" stroke-width="1.6"/>
<rect x="786.72" y="252.80" width="5.5" height="5.5" fill="none" stroke="#000" stroke-width="1.6"/>
<rect x="798.84" y="248.51" width="5.5" height="5.5" fill="none" stroke="#000" stroke-width="1.6"/>
<rect x="810.84" y="243.69" width="5.5" height="5.5" fill="none" stroke="#000" stroke-width="1.6"/>
<rect x="810.84" y="252.80" width="5.5" height="5.5" fill="none" stroke="#000" stroke-width="1.6"/>
<rect x="822.84" y="249.05" width="5.5" height="5.5" fill="none" stroke="#000" stroke-width="1.6"/>
<rect x="834.63" y="243.69" width="5.5" height="5.5" fill="none" stroke="#000" stroke-width="1.6"/>
<rect x="834.63" y="252.80" width="5.5" height="5.5" fill="none" stroke="#000" stroke-width="1.6"/>
<rect x="798.84" y="261.91" width="5.5" height="5.5" fill="none" stroke="#000" stroke-width="1.6"/>
<rect x="810.84" y="261.91" width="5.5" height="5.5" fill="none" stroke="#000" stroke-width="1.6"/>
<rect x="786.72" y="269.41" width="5.5" height="5.5" fill="none" stroke="#000" stroke-width="1.6"/>
<rect x="810.84" y="269.41" width="5.5" height="5.5" fill="none" stroke="#000" stroke-width="1.6"/>
<rect x="786.72" y="277.45" width="5.5" height="5.5" fill="none" stroke="#000" stroke-width="1.6"/>
<rect x="798.84" y="274.23" width="5.5" height="5.5" fill="none" stroke="#000" stroke-width="1.6"/>
<rect x="822.84" y="276.91" width="5.5" height="5.5" fill="none" stroke="#000" stroke-width="1.6"/>
<rect x="786.72" y="289.24" width="5.5" height="5.5" fill="none" stroke="#000" stroke-width="1.6"/>
<rect x="798.84" y="295.13" width="5.5" height="5.5" fill="none" stroke="#000" stroke-width="1.6"/>
<rect x="810.84" y="295.13" width="5.5" height="5.5" fill="none" stroke="#000" stroke-width="1.6"/>
<rect x="798.84" y="316.95" width="5.5" height="5.5" fill="none" stroke="#000" stroke-width="1.6"/>
<rect x="810.84" y="316.95" width="5.5" height="5.5" fill="none" stroke="#000" stroke-width="1.6"/>
<rect x="764.95" y="199.70" width="85.30" height="66.90" fill="none" stroke="#000" stroke-width="4.2"/>
<path d="M764.95 238.00H850.25" stroke="#000" stroke-width="4.4"/>
<text x="64.60" y="557.60" font-family="Liberation Sans, sans-serif" font-size="41" letter-spacing="1.144" fill="#000">(C) Total cholesterol</text>
<text transform="translate(23.30,750.50) rotate(-90)" text-anchor="middle" font-family="Liberation Sans, sans-serif" font-weight="bold" font-size="26" letter-spacing="0.09" fill="#000">Total cholesterol (mg/dL)</text>
<path d="M98.30 594.00V910.50H414.70" fill="none" stroke="#000" stroke-width="3.2" stroke-linejoin="miter" stroke-linecap="butt"/>
<path d="M84.80 910.50H98.30" stroke="#000" stroke-width="3.2"/>
<text x="81.40" y="919.62" text-anchor="end" font-family="Liberation Sans, sans-serif" font-weight="bold" font-size="26.5" fill="#000">0</text>
<path d="M84.80 831.75H98.30" stroke="#000" stroke-width="3.2"/>
<text x="81.40" y="840.87" text-anchor="end" font-family="Liberation Sans, sans-serif" font-weight="bold" font-size="26.5" fill="#000">100</text>
<path d="M84.80 753.00H98.30" stroke="#000" stroke-width="3.2"/>
<text x="81.40" y="762.12" text-anchor="end" font-family="Liberation Sans, sans-serif" font-weight="bold" font-size="26.5" fill="#000">200</text>
<path d="M84.80 674.25H98.30" stroke="#000" stroke-width="3.2"/>
<text x="81.40" y="683.37" text-anchor="end" font-family="Liberation Sans, sans-serif" font-weight="bold" font-size="26.5" fill="#000">300</text>
<path d="M84.80 595.50H98.30" stroke="#000" stroke-width="3.2"/>
<text x="81.40" y="604.62" text-anchor="end" font-family="Liberation Sans, sans-serif" font-weight="bold" font-size="26.5" fill="#000">400</text>
<path d="M187.90 910.50V924.00" stroke="#000" stroke-width="3.2"/>
<text x="188.40" y="951.00" text-anchor="middle" font-family="Liberation Sans, sans-serif" font-weight="bold" font-size="26.5" letter-spacing="0.2" fill="#000">RA (n=114)</text>
<path d="M322.90 910.50V924.00" stroke="#000" stroke-width="3.2"/>
<text x="323.40" y="951.00" text-anchor="middle" font-family="Liberation Sans, sans-serif" font-weight="bold" font-size="26.5" letter-spacing="-0.1" fill="#000">HC (n=41)</text>
<path d="M187.90 673.60V820.20" stroke="#000" stroke-width="4.6"/>
<path d="M165.65 673.60H210.15M165.65 820.20H210.15" stroke="#000" stroke-width="4.5"/>
<rect x="145.25" y="738.10" width="85.30" height="39.50" fill="#f84141"/>
<circle cx="176.7" cy="673.6" r="3.0" fill="none" stroke="#000" stroke-width="1.6"/>
<circle cx="199.5" cy="673.6" r="3.0" fill="none" stroke="#000" stroke-width="1.6"/>
<circle cx="183.9" cy="677.9" r="3.0" fill="none" stroke="#000" stroke-width="1.6"/>
<circle cx="183.9" cy="684.8" r="3.0" fill="none" stroke="#000" stroke-width="1.6"/>
<circle cx="183.9" cy="691.3" r="3.0" fill="none" stroke="#000" stroke-width="1.6"/>
<circle cx="183.9" cy="698.2" r="3.0" fill="none" stroke="#000" stroke-width="1.6"/>
<circle cx="183.9" cy="707.3" r="3.0" fill="none" stroke="#000" stroke-width="1.6"/>
<circle cx="183.9" cy="715.4" r="3.0" fill="none" stroke="#000" stroke-width="1.6"/>
<circle cx="183.9" cy="724.5" r="3.0" fill="none" stroke="#000" stroke-width="1.6"/>
<circle cx="192.3" cy="680.0" r="3.0" fill="none" stroke="#000" stroke-width="1.6"/>
<circle cx="192.3" cy="688.0" r="3.0" fill="none" stroke="#000" stroke-width="1.6"/>
<circle cx="192.3" cy="699.8" r="3.0" fill="none" stroke="#000" stroke-width="1.6"/>
<circle cx="192.3" cy="710.6" r="3.0" fill="none" stroke="#000" stroke-width="1.6"/>
<circle cx="192.3" cy="722.9" r="3.0" fill="none" stroke="#000" stroke-width="1.6"/>
<circle cx="192.3" cy="729.3" r="3.0" fill="none" stroke="#000" stroke-width="1.6"/>
<circle cx="176.7" cy="706.8" r="3.0" fill="none" stroke="#000" stroke-width="1.6"/>
<circle cx="199.5" cy="710.0" r="3.0" fill="none" stroke="#000" stroke-width="1.6"/>
<circle cx="207.3" cy="705.2" r="3.0" fill="none" stroke="#000" stroke-width="1.6"/>
<circle cx="161.4" cy="721.8" r="3.0" fill="none" stroke="#000" stroke-width="1.6"/>
<circle cx="199.5" cy="724.5" r="3.0" fill="none" stroke="#000" stroke-width="1.6"/>
<circle cx="207.3" cy="724.5" r="3.0" fill="none" stroke="#000" stroke-width="1.6"/>
<circle cx="215.0" cy="726.1" r="3.0" fill="none" stroke="#000" stroke-width="1.6"/>
<circle cx="153.9" cy="729.8" r="3.0" fill="none" stroke="#000" stroke-width="1.6"/>
<circle cx="161.4" cy="730.4" r="3.0" fill="none" stroke="#000" stroke-width="1.6"/>
<circle cx="168.9" cy="731.5" r="3.0" fill="none" stroke="#000" stroke-width="1.6"/>
<circle cx="176.7" cy="728.2" r="3.0" fill="none" stroke="#000" stroke-width="1.6"/>
<circle cx="199.5" cy="731.5" r="3.0" fill="none" stroke="#000" stroke-width="1.6"/>
<circle cx="207.3" cy="733.6" r="3.0" fill="none" stroke="#000" stroke-width="1.6"/>
<circle cx="215.0" cy="734.5" r="3.0" fill="none" stroke="#000" stroke-width="1.6"/>
<circle cx="222.5" cy="735.2" r="3.0" fill="none" stroke="#000" stroke-width="1.6"/>
<circle cx="183.9" cy="734.7" r="3.0" fill="none" stroke="#000" stroke-width="1.6"/>
<circle cx="153.9" cy="744.5" r="3.0" fill="none" stroke="#000" stroke-width="1.6"/>
<circle cx="161.4" cy="745.5" r="3.0" fill="none" stroke="#000" stroke-width="1.6"/>
<circle cx="176.7" cy="742.9" r="3.0" fill="none" stroke="#000" stroke-width="1.6"/>
<circle cx="183.9" cy="744.5" r="3.0" fill="none" stroke="#000" stroke-width="1.6"/>
<circle cx="192.3" cy="745.5" r="3.0" fill="none" stroke="#000" stroke-width="1.6"/>
<circle cx="199.5" cy="746.6" r="3.0" fill="none" stroke="#000" stroke-width="1.6"/>
<circle cx="215.0" cy="743.9" r="3.0" fill="none" stroke="#000" stroke-width="1.6"/>
<circle cx="222.5" cy="743.4" r="3.0" fill="none" stroke="#000" stroke-width="1.6"/>
<circle cx="168.9" cy="748.2" r="3.0" fill="none" stroke="#000" stroke-width="1.6"/>
<circle cx="176.7" cy="749.8" r="3.0" fill="none" stroke="#000" stroke-width="1.6"/>
<circle cx="207.3" cy="748.2" r="3.0" fill="none" stroke="#000" stroke-width="1.6"/>
<circle cx="161.4" cy="754.1" r="3.0" fill="none" stroke="#000" stroke-width="1.6"/>
<circle cx="183.9" cy="753.0" r="3.0" fill="none" stroke="#000" stroke-width="1.6"/>
<circle cx="192.3" cy="752.5" r="3.0" fill="none" stroke="#000" stroke-width="1.6"/>
<circle cx="153.9" cy="757.3" r="3.0" fill="none" stroke="#000" stroke-width="1.6"/>
<circle cx="161.4" cy="756.8" r="3.0" fill="none" stroke="#000" stroke-width="1.6"/>
<circle cx="168.9" cy="757.3" r="3.0" fill="none" stroke="#000" stroke-width="1.6"/>
<circle cx="176.7" cy="757.9" r="3.0" fill="none" stroke="#000" stroke-width="1.6"/>
<circle cx="183.9" cy="756.8" r="3.0" fill="none" stroke="#000" stroke-width="1.6"/>
<circle cx="192.3" cy="757.3" r="3.0" fill="none" stroke="#000" stroke-width="1.6"/>
<circle cx="199.5" cy="757.3" r="3.0" fill="none" stroke="#000" stroke-width="1.6"/>
<circle cx="207.3" cy="756.3" r="3.0" fill="none" stroke="#000" stroke-width="1.6"/>
<circle cx="215.0" cy="757.9" r="3.0" fill="none" stroke="#000" stroke-width="1.6"/>
<circle cx="222.5" cy="756.8" r="3.0" fill="none" stroke="#000" stroke-width="1.6"/>
<circle cx="230.0" cy="754.9" r="3.0" fill="none" stroke="#000" stroke-width="1.6"/>
<circle cx="161.4" cy="762.7" r="3.0" fill="none" stroke="#000" stroke-width="1.6"/>
<circle cx="153.9" cy="765.9" r="3.0" fill="none" stroke="#000" stroke-width="1.6"/>
<circle cx="168.9" cy="768.0" r="3.0" fill="none" stroke="#000" stroke-width="1.6"/>
<circle cx="183.9" cy="767.0" r="3.0" fill="none" stroke="#000" stroke-width="1.6"/>
<circle cx="192.3" cy="765.9" r="3.0" fill="none" stroke="#000" stroke-width="1.6"/>
<circle cx="199.5" cy="764.8" r="3.0" fill="none" stroke="#000" stroke-width="1.6"/>
<circle cx="207.3" cy="763.8" r="3.0" fill="none" stroke="#000" stroke-width="1.6"/>
<circle cx="215.0" cy="764.8" r="3.0" fill="none" stroke="#000" stroke-width="1.6"/>
<circle cx="222.5" cy="766.4" r="3.0" fill="none" stroke="#000" stroke-width="1.6"/>
<circle cx="153.9" cy="771.8" r="3.0" fill="none" stroke="#000" stroke-width="1.6"/>
<circle cx="161.4" cy="770.7" r="3.0" fill="none" stroke="#000" stroke-width="1.6"/>
<circle cx="176.7" cy="770.2" r="3.0" fill="none" stroke="#000" stroke-width="1.6"/>
<circle cx="192.3" cy="773.4" r="3.0" fill="none" stroke="#000" stroke-width="1.6"/>
<circle cx="207.3" cy="772.9" r="3.0" fill="none" stroke="#000" stroke-width="1.6"/>
<circle cx="222.5" cy="772.9" r="3.0" fill="none" stroke="#000" stroke-width="1.6"/>
<circle cx="144.3" cy="776.1" r="3.0" fill="none" stroke="#000" stroke-width="1.6"/>
<circle cx="161.4" cy="775.0" r="3.0" fill="none" stroke="#000" stroke-width="1.6"/>
<circle cx="168.9" cy="774.5" r="3.0" fill="none" stroke="#000" stroke-width="1.6"/>
<circle cx="176.7" cy="775.6" r="3.0" fill="none" stroke="#000" stroke-width="1.6"/>
<circle cx="183.9" cy="775.0" r="3.0" fill="none" stroke="#000" stroke-width="1.6"/>
<circle cx="230.0" cy="774.5" r="3.0" fill="none" stroke="#000" stroke-width="1.6"/>
<circle cx="153.9" cy="779.1" r="3.0" fill="none" stroke="#000" stroke-width="1.6"/>
<circle cx="199.5" cy="780.2" r="3.0" fill="none" stroke="#000" stroke-width="1.6"/>
<circle cx="207.3" cy="780.2" r="3.0" fill="none" stroke="#000" stroke-width="1.6"/>
<circle cx="215.0" cy="780.2" r="3.0" fill="none" stroke="#000" stroke-width="1.6"/>
<circle cx="161.4" cy="783.4" r="3.0" fill="none" stroke="#000" stroke-width="1.6"/>
<circle cx="176.7" cy="782.9" r="3.0" fill="none" stroke="#000" stroke-width="1.6"/>
<circle cx="183.9" cy="782.9" r="3.0" fill="none" stroke="#000" stroke-width="1.6"/>
<circle cx="192.3" cy="783.9" r="3.0" fill="none" stroke="#000" stroke-width="1.6"/>
<circle cx="222.5" cy="782.3" r="3.0" fill="none" stroke="#000" stroke-width="1.6"/>
<circle cx="230.0" cy="781.8" r="3.0" fill="none" stroke="#000" stroke-width="1.6"/>
<circle cx="199.5" cy="787.7" r="3.0" fill="none" stroke="#000" stroke-width="1.6"/>
<circle cx="207.3" cy="786.6" r="3.0" fill="none" stroke="#000" stroke-width="1.6"/>
<circle cx="168.9" cy="788.8" r="3.0" fill="none" stroke="#000" stroke-width="1.6"/>
<circle cx="183.9" cy="791.4" r="3.0" fill="none" stroke="#000" stroke-width="1.6"/>
<circle cx="207.3" cy="793.0" r="3.0" fill="none" stroke="#000" stroke-width="1.6"/>
<circle cx="161.4" cy="795.2" r="3.0" fill="none" stroke="#000" stroke-width="1.6"/>
<circle cx="168.9" cy="796.3" r="3.0" fill="none" stroke="#000" stroke-width="1.6"/>
<circle cx="192.3" cy="798.4" r="3.0" fill="none" stroke="#000" stroke-width="1.6"/>
<circle cx="199.5" cy="798.4" r="3.0" fill="none" stroke="#000" stroke-width="1.6"/>
<circle cx="215.0" cy="796.8" r="3.0" fill="none" stroke="#000" stroke-width="1.6"/>
<circle cx="153.9" cy="801.1" r="3.0" fill="none" stroke="#000" stroke-width="1.6"/>
<circle cx="161.4" cy="802.2" r="3.0" fill="none" stroke="#000" stroke-width="1.6"/>
<circle cx="176.7" cy="801.6" r="3.0" fill="none" stroke="#000" stroke-width="1.6"/>
<circle cx="215.0" cy="804.3" r="3.0" fill="none" stroke="#000" stroke-width="1.6"/>
<circle cx="207.3" cy="804.8" r="3.0" fill="none" stroke="#000" stroke-width="1.6"/>
<circle cx="168.9" cy="807.0" r="3.0" fill="none" stroke="#000" stroke-width="1.6"/>
<circle cx="183.9" cy="805.9" r="3.0" fill="none" stroke="#000" stroke-width="1.6"/>
<circle cx="192.3" cy="805.9" r="3.0" fill="none" stroke="#000" stroke-width="1.6"/>
<circle cx="199.5" cy="806.4" r="3.0" fill="none" stroke="#000" stroke-width="1.6"/>
<circle cx="186.1" cy="813.4" r="3.0" fill="none" stroke="#000" stroke-width="1.6"/>
<circle cx="195.7" cy="817.2" r="3.0" fill="none" stroke="#000" stroke-width="1.6"/>
<circle cx="180.2" cy="820.2" r="3.0" fill="none" stroke="#000" stroke-width="1.6"/>
<rect x="145.25" y="738.10" width="85.30" height="39.50" fill="none" stroke="#000" stroke-width="4.2"/>
<path d="M145.25 757.20H230.55" stroke="#000" stroke-width="4.4"/>
<path d="M322.90 697.40V809.50" stroke="#000" stroke-width="4.6"/>
<path d="M300.65 697.40H345.15M300.65 809.50H345.15" stroke="#000" stroke-width="4.5"/>
<rect x="280.25" y="737.40" width="85.30" height="45.00" fill="#5b57f5"/>
<rect x="314.05" y="694.65" width="5.5" height="5.5" fill="none" stroke="#000" stroke-width="1.6"/>
<rect x="325.84" y="694.65" width="5.5" height="5.5" fill="none" stroke="#000" stroke-width="1.6"/>
<rect x="337.84" y="697.43" width="5.5" height="5.5" fill="none" stroke="#000" stroke-width="1.6"/>
<rect x="325.84" y="700.65" width="5.5" height="5.5" fill="none" stroke="#000" stroke-width="1.6"/>
<rect x="314.05" y="711.37" width="5.5" height="5.5" fill="none" stroke="#000" stroke-width="1.6"/>
<rect x="325.84" y="710.83" width="5.5" height="5.5" fill="none" stroke="#000" stroke-width="1.6"/>
<rect x="320.27" y="720.48" width="5.5" height="5.5" fill="none" stroke="#000" stroke-width="1.6"/>
<rect x="290.26" y="727.44" width="5.5" height="5.5" fill="none" stroke="#000" stroke-width="1.6"/>
<rect x="349.96" y="729.59" width="5.5" height="5.5" fill="none" stroke="#000" stroke-width="1.6"/>
<rect x="302.26" y="731.19" width="5.5" height="5.5" fill="none" stroke="#000" stroke-width="1.6"/>
<rect x="314.05" y="730.12" width="5.5" height="5.5" fill="none" stroke="#000" stroke-width="1.6"/>
<rect x="325.84" y="731.19" width="5.5" height="5.5" fill="none" stroke="#000" stroke-width="1.6"/>
<rect x="337.84" y="731.19" width="5.5" height="5.5" fill="none" stroke="#000" stroke-width="1.6"/>
<rect x="296.04" y="740.84" width="5.5" height="5.5" fill="none" stroke="#000" stroke-width="1.6"/>
<rect x="307.62" y="740.84" width="5.5" height="5.5" fill="none" stroke="#000" stroke-width="1.6"/>
<rect x="319.95" y="740.84" width="5.5" height="5.5" fill="none" stroke="#000" stroke-width="1.6"/>
<rect x="331.74" y="742.45" width="5.5" height="5.5" fill="none" stroke="#000" stroke-width="1.6"/>
<rect x="343.53" y="742.45" width="5.5" height="5.5" fill="none" stroke="#000" stroke-width="1.6"/>
<rect x="278.14" y="761.54" width="5.5" height="5.5" fill="none" stroke="#000" stroke-width="1.6"/>
<rect x="290.47" y="760.47" width="5.5" height="5.5" fill="none" stroke="#000" stroke-width="1.6"/>
<rect x="302.26" y="761.54" width="5.5" height="5.5" fill="none" stroke="#000" stroke-width="1.6"/>
<rect x="314.05" y="761.01" width="5.5" height="5.5" fill="none" stroke="#000" stroke-width="1.6"/>
<rect x="325.84" y="758.33" width="5.5" height="5.5" fill="none" stroke="#000" stroke-width="1.6"/>
<rect x="337.84" y="759.93" width="5.5" height="5.5" fill="none" stroke="#000" stroke-width="1.6"/>
<rect x="349.96" y="764.22" width="5.5" height="5.5" fill="none" stroke="#000" stroke-width="1.6"/>
<rect x="361.21" y="758.33" width="5.5" height="5.5" fill="none" stroke="#000" stroke-width="1.6"/>
<rect x="302.26" y="769.05" width="5.5" height="5.5" fill="none" stroke="#000" stroke-width="1.6"/>
<rect x="314.05" y="765.29" width="5.5" height="5.5" fill="none" stroke="#000" stroke-width="1.6"/>
<rect x="325.84" y="769.05" width="5.5" height="5.5" fill="none" stroke="#000" stroke-width="1.6"/>
<rect x="337.84" y="767.44" width="5.5" height="5.5" fill="none" stroke="#000" stroke-width="1.6"/>
<rect x="314.05" y="773.33" width="5.5" height="5.5" fill="none" stroke="#000" stroke-width="1.6"/>
<rect x="325.84" y="775.48" width="5.5" height="5.5" fill="none" stroke="#000" stroke-width="1.6"/>
<rect x="296.04" y="788.87" width="5.5" height="5.5" fill="none" stroke="#000" stroke-width="1.6"/>
<rect x="308.16" y="794.23" width="5.5" height="5.5" fill="none" stroke="#000" stroke-width="1.6"/>
<rect x="320.27" y="794.23" width="5.5" height="5.5" fill="none" stroke="#000" stroke-width="1.6"/>
<rect x="331.74" y="792.09" width="5.5" height="5.5" fill="none" stroke="#000" stroke-width="1.6"/>
<rect x="343.85" y="791.02" width="5.5" height="5.5" fill="none" stroke="#000" stroke-width="1.6"/>
<rect x="290.26" y="800.66" width="5.5" height="5.5" fill="none" stroke="#000" stroke-width="1.6"/>
<rect x="314.05" y="800.13" width="5.5" height="5.5" fill="none" stroke="#000" stroke-width="1.6"/>
<rect x="302.26" y="806.75" width="5.5" height="5.5" fill="none" stroke="#000" stroke-width="1.6"/>
<rect x="325.84" y="806.75" width="5.5" height="5.5" fill="none" stroke="#000" stroke-width="1.6"/>
<rect x="337.84" y="806.75" width="5.5" height="5.5" fill="none" stroke="#000" stroke-width="1.6"/>
<rect x="280.25" y="737.40" width="85.30" height="45.00" fill="none" stroke="#000" stroke-width="4.2"/>
<path d="M280.25 763.60H365.55" stroke="#000" stroke-width="4.4"/>
<text x="547.00" y="557.60" font-family="Liberation Sans, sans-serif" font-size="41" letter-spacing="1.172" fill="#000">(D) Triglyceride</text>
<text transform="translate(506.60,749.60) rotate(-90)" text-anchor="middle" font-family="Liberation Sans, sans-serif" font-weight="bold" font-size="26" letter-spacing="0.13" fill="#000">Triglyceride (mg/dL)</text>
<path d="M583.30 594.00V910.50H899.30" fill="none" stroke="#000" stroke-width="3.2" stroke-linejoin="miter" stroke-linecap="butt"/>
<path d="M569.80 910.50H583.30" stroke="#000" stroke-width="3.2"/>
<text x="566.40" y="919.62" text-anchor="end" font-family="Liberation Sans, sans-serif" font-weight="bold" font-size="26.5" fill="#000">0</text>
<path d="M569.80 847.50H583.30" stroke="#000" stroke-width="3.2"/>
<text x="566.40" y="856.62" text-anchor="end" font-family="Liberation Sans, sans-serif" font-weight="bold" font-size="26.5" fill="#000">100</text>
<path d="M569.80 784.50H583.30" stroke="#000" stroke-width="3.2"/>
<text x="566.40" y="793.62" text-anchor="end" font-family="Liberation Sans, sans-serif" font-weight="bold" font-size="26.5" fill="#000">200</text>
<path d="M569.80 721.50H583.30" stroke="#000" stroke-width="3.2"/>
<text x="566.40" y="730.62" text-anchor="end" font-family="Liberation Sans, sans-serif" font-weight="bold" font-size="26.5" fill="#000">300</text>
<path d="M569.80 658.50H583.30" stroke="#000" stroke-width="3.2"/>
<text x="566.40" y="667.62" text-anchor="end" font-family="Liberation Sans, sans-serif" font-weight="bold" font-size="26.5" fill="#000">400</text>
<path d="M569.80 595.50H583.30" stroke="#000" stroke-width="3.2"/>
<text x="566.40" y="604.62" text-anchor="end" font-family="Liberation Sans, sans-serif" font-weight="bold" font-size="26.5" fill="#000">500</text>
<path d="M672.90 910.50V924.00" stroke="#000" stroke-width="3.2"/>
<text x="673.40" y="951.00" text-anchor="middle" font-family="Liberation Sans, sans-serif" font-weight="bold" font-size="26.5" letter-spacing="0.2" fill="#000">RA (n=114)</text>
<path d="M807.90 910.50V924.00" stroke="#000" stroke-width="3.2"/>
<text x="808.40" y="951.00" text-anchor="middle" font-family="Liberation Sans, sans-serif" font-weight="bold" font-size="26.5" letter-spacing="-0.1" fill="#000">HC (n=41)</text>
<path d="M672.90 617.90V892.40" stroke="#000" stroke-width="4.6"/>
<path d="M650.65 617.90H695.15M650.65 892.40H695.15" stroke="#000" stroke-width="4.5"/>
<rect x="630.25" y="832.20" width="85.30" height="32.20" fill="#f84141"/>
<circle cx="672.9" cy="617.9" r="3.0" fill="none" stroke="#000" stroke-width="1.6"/>
<circle cx="672.9" cy="632.7" r="3.0" fill="none" stroke="#000" stroke-width="1.6"/>
<circle cx="672.9" cy="652.2" r="3.0" fill="none" stroke="#000" stroke-width="1.6"/>
<circle cx="672.9" cy="732.0" r="3.0" fill="none" stroke="#000" stroke-width="1.6"/>
<circle cx="672.9" cy="762.2" r="3.0" fill="none" stroke="#000" stroke-width="1.6"/>
<circle cx="665.5" cy="786.6" r="3.0" fill="none" stroke="#000" stroke-width="1.6"/>
<circle cx="670.2" cy="787.7" r="3.0" fill="none" stroke="#000" stroke-width="1.6"/>
<circle cx="675.4" cy="789.8" r="3.0" fill="none" stroke="#000" stroke-width="1.6"/>
<circle cx="680.2" cy="787.1" r="3.0" fill="none" stroke="#000" stroke-width="1.6"/>
<circle cx="685.2" cy="784.5" r="3.0" fill="none" stroke="#000" stroke-width="1.6"/>
<circle cx="665.5" cy="802.2" r="3.0" fill="none" stroke="#000" stroke-width="1.6"/>
<circle cx="675.9" cy="803.2" r="3.0" fill="none" stroke="#000" stroke-width="1.6"/>
<circle cx="665.5" cy="808.6" r="3.0" fill="none" stroke="#000" stroke-width="1.6"/>
<circle cx="670.2" cy="811.3" r="3.0" fill="none" stroke="#000" stroke-width="1.6"/>
<circle cx="675.9" cy="810.7" r="3.0" fill="none" stroke="#000" stroke-width="1.6"/>
<circle cx="680.7" cy="808.6" r="3.0" fill="none" stroke="#000" stroke-width="1.6"/>
<circle cx="650.7" cy="821.2" r="3.0" fill="none" stroke="#000" stroke-width="1.6"/>
<circle cx="660.4" cy="819.8" r="3.0" fill="none" stroke="#000" stroke-width="1.6"/>
<circle cx="665.5" cy="822.0" r="3.0" fill="none" stroke="#000" stroke-width="1.6"/>
<circle cx="670.6" cy="818.8" r="3.0" fill="none" stroke="#000" stroke-width="1.6"/>
<circle cx="675.9" cy="819.3" r="3.0" fill="none" stroke="#000" stroke-width="1.6"/>
<circle cx="685.6" cy="819.8" r="3.0" fill="none" stroke="#000" stroke-width="1.6"/>
<circle cx="690.4" cy="825.2" r="3.0" fill="none" stroke="#000" stroke-width="1.6"/>
<circle cx="656.1" cy="827.7" r="3.0" fill="none" stroke="#000" stroke-width="1.6"/>
<circle cx="660.9" cy="829.5" r="3.0" fill="none" stroke="#000" stroke-width="1.6"/>
<circle cx="670.6" cy="825.7" r="3.0" fill="none" stroke="#000" stroke-width="1.6"/>
<circle cx="675.9" cy="826.3" r="3.0" fill="none" stroke="#000" stroke-width="1.6"/>
<circle cx="680.7" cy="826.3" r="3.0" fill="none" stroke="#000" stroke-width="1.6"/>
<circle cx="685.6" cy="827.9" r="3.0" fill="none" stroke="#000" stroke-width="1.6"/>
<circle cx="655.5" cy="835.2" r="3.0" fill="none" stroke="#000" stroke-width="1.6"/>
<circle cx="660.4" cy="837.3" r="3.0" fill="none" stroke="#000" stroke-width="1.6"/>
<circle cx="665.2" cy="841.1" r="3.0" fill="none" stroke="#000" stroke-width="1.6"/>
<circle cx="670.0" cy="839.5" r="3.0" fill="none" stroke="#000" stroke-width="1.6"/>
<circle cx="675.4" cy="840.0" r="3.0" fill="none" stroke="#000" stroke-width="1.6"/>
<circle cx="679.7" cy="837.9" r="3.0" fill="none" stroke="#000" stroke-width="1.6"/>
<circle cx="684.5" cy="837.3" r="3.0" fill="none" stroke="#000" stroke-width="1.6"/>
<circle cx="689.8" cy="835.7" r="3.0" fill="none" stroke="#000" stroke-width="1.6"/>
<circle cx="635.7" cy="849.7" r="3.0" fill="none" stroke="#000" stroke-width="1.6"/>
<circle cx="645.4" cy="847.5" r="3.0" fill="none" stroke="#000" stroke-width="1.6"/>
<circle cx="650.7" cy="845.9" r="3.0" fill="none" stroke="#000" stroke-width="1.6"/>
<circle cx="655.5" cy="849.1" r="3.0" fill="none" stroke="#000" stroke-width="1.6"/>
<circle cx="660.4" cy="849.7" r="3.0" fill="none" stroke="#000" stroke-width="1.6"/>
<circle cx="665.2" cy="850.2" r="3.0" fill="none" stroke="#000" stroke-width="1.6"/>
<circle cx="670.0" cy="850.7" r="3.0" fill="none" stroke="#000" stroke-width="1.6"/>
<circle cx="675.4" cy="850.2" r="3.0" fill="none" stroke="#000" stroke-width="1.6"/>
<circle cx="689.8" cy="845.9" r="3.0" fill="none" stroke="#000" stroke-width="1.6"/>
<circle cx="694.7" cy="843.2" r="3.0" fill="none" stroke="#000" stroke-width="1.6"/>
<circle cx="694.7" cy="850.2" r="3.0" fill="none" stroke="#000" stroke-width="1.6"/>
<circle cx="704.8" cy="846.4" r="3.0" fill="none" stroke="#000" stroke-width="1.6"/>
<circle cx="709.7" cy="850.7" r="3.0" fill="none" stroke="#000" stroke-width="1.6"/>
<circle cx="630.9" cy="850.7" r="3.0" fill="none" stroke="#000" stroke-width="1.6"/>
<circle cx="640.0" cy="853.1" r="3.0" fill="none" stroke="#000" stroke-width="1.6"/>
<circle cx="645.4" cy="853.4" r="3.0" fill="none" stroke="#000" stroke-width="1.6"/>
<circle cx="650.7" cy="852.9" r="3.0" fill="none" stroke="#000" stroke-width="1.6"/>
<circle cx="660.4" cy="853.4" r="3.0" fill="none" stroke="#000" stroke-width="1.6"/>
<circle cx="630.9" cy="858.9" r="3.0" fill="none" stroke="#000" stroke-width="1.6"/>
<circle cx="635.8" cy="859.1" r="3.0" fill="none" stroke="#000" stroke-width="1.6"/>
<circle cx="640.8" cy="859.3" r="3.0" fill="none" stroke="#000" stroke-width="1.6"/>
<circle cx="645.8" cy="859.5" r="3.0" fill="none" stroke="#000" stroke-width="1.6"/>
<circle cx="650.7" cy="859.7" r="3.0" fill="none" stroke="#000" stroke-width="1.6"/>
<circle cx="655.7" cy="859.9" r="3.0" fill="none" stroke="#000" stroke-width="1.6"/>
<circle cx="660.6" cy="860.2" r="3.0" fill="none" stroke="#000" stroke-width="1.6"/>
<circle cx="665.6" cy="859.0" r="3.0" fill="none" stroke="#000" stroke-width="1.6"/>
<circle cx="670.5" cy="859.2" r="3.0" fill="none" stroke="#000" stroke-width="1.6"/>
<circle cx="675.5" cy="859.4" r="3.0" fill="none" stroke="#000" stroke-width="1.6"/>
<circle cx="680.4" cy="859.6" r="3.0" fill="none" stroke="#000" stroke-width="1.6"/>
<circle cx="685.4" cy="859.8" r="3.0" fill="none" stroke="#000" stroke-width="1.6"/>
<circle cx="690.3" cy="860.0" r="3.0" fill="none" stroke="#000" stroke-width="1.6"/>
<circle cx="695.3" cy="858.9" r="3.0" fill="none" stroke="#000" stroke-width="1.6"/>
<circle cx="700.2" cy="859.1" r="3.0" fill="none" stroke="#000" stroke-width="1.6"/>
<circle cx="705.2" cy="859.3" r="3.0" fill="none" stroke="#000" stroke-width="1.6"/>
<circle cx="710.1" cy="859.5" r="3.0" fill="none" stroke="#000" stroke-width="1.6"/>
<circle cx="715.1" cy="859.7" r="3.0" fill="none" stroke="#000" stroke-width="1.6"/>
<circle cx="635.7" cy="863.9" r="3.0" fill="none" stroke="#000" stroke-width="1.6"/>
<circle cx="641.5" cy="864.0" r="3.0" fill="none" stroke="#000" stroke-width="1.6"/>
<circle cx="647.3" cy="864.1" r="3.0" fill="none" stroke="#000" stroke-width="1.6"/>
<circle cx="653.0" cy="864.2" r="3.0" fill="none" stroke="#000" stroke-width="1.6"/>
<circle cx="658.8" cy="864.3" r="3.0" fill="none" stroke="#000" stroke-width="1.6"/>
<circle cx="664.5" cy="864.4" r="3.0" fill="none" stroke="#000" stroke-width="1.6"/>
<circle cx="670.3" cy="864.5" r="3.0" fill="none" stroke="#000" stroke-width="1.6"/>
<circle cx="676.1" cy="864.7" r="3.0" fill="none" stroke="#000" stroke-width="1.6"/>
<circle cx="681.8" cy="864.8" r="3.0" fill="none" stroke="#000" stroke-width="1.6"/>
<circle cx="687.6" cy="864.9" r="3.0" fill="none" stroke="#000" stroke-width="1.6"/>
<circle cx="693.4" cy="865.0" r="3.0" fill="none" stroke="#000" stroke-width="1.6"/>
<circle cx="699.1" cy="863.9" r="3.0" fill="none" stroke="#000" stroke-width="1.6"/>
<circle cx="704.9" cy="864.0" r="3.0" fill="none" stroke="#000" stroke-width="1.6"/>
<circle cx="710.7" cy="864.1" r="3.0" fill="none" stroke="#000" stroke-width="1.6"/>
<circle cx="650.7" cy="868.9" r="3.0" fill="none" stroke="#000" stroke-width="1.6"/>
<circle cx="655.5" cy="870.6" r="3.0" fill="none" stroke="#000" stroke-width="1.6"/>
<circle cx="660.9" cy="868.9" r="3.0" fill="none" stroke="#000" stroke-width="1.6"/>
<circle cx="665.7" cy="871.1" r="3.0" fill="none" stroke="#000" stroke-width="1.6"/>
<circle cx="680.7" cy="870.0" r="3.0" fill="none" stroke="#000" stroke-width="1.6"/>
<circle cx="685.0" cy="871.1" r="3.0" fill="none" stroke="#000" stroke-width="1.6"/>
<circle cx="690.4" cy="868.9" r="3.0" fill="none" stroke="#000" stroke-width="1.6"/>
<circle cx="695.2" cy="871.6" r="3.0" fill="none" stroke="#000" stroke-width="1.6"/>
<circle cx="704.8" cy="868.4" r="3.0" fill="none" stroke="#000" stroke-width="1.6"/>
<circle cx="709.7" cy="867.9" r="3.0" fill="none" stroke="#000" stroke-width="1.6"/>
<circle cx="650.7" cy="877.0" r="3.0" fill="none" stroke="#000" stroke-width="1.6"/>
<circle cx="655.5" cy="874.3" r="3.0" fill="none" stroke="#000" stroke-width="1.6"/>
<circle cx="660.9" cy="875.4" r="3.0" fill="none" stroke="#000" stroke-width="1.6"/>
<circle cx="665.7" cy="877.5" r="3.0" fill="none" stroke="#000" stroke-width="1.6"/>
<circle cx="680.7" cy="875.9" r="3.0" fill="none" stroke="#000" stroke-width="1.6"/>
<circle cx="685.0" cy="874.8" r="3.0" fill="none" stroke="#000" stroke-width="1.6"/>
<circle cx="690.4" cy="877.5" r="3.0" fill="none" stroke="#000" stroke-width="1.6"/>
<circle cx="695.2" cy="878.1" r="3.0" fill="none" stroke="#000" stroke-width="1.6"/>
<circle cx="660.9" cy="880.7" r="3.0" fill="none" stroke="#000" stroke-width="1.6"/>
<circle cx="680.7" cy="880.7" r="3.0" fill="none" stroke="#000" stroke-width="1.6"/>
<circle cx="685.0" cy="880.7" r="3.0" fill="none" stroke="#000" stroke-width="1.6"/>
<circle cx="655.5" cy="886.1" r="3.0" fill="none" stroke="#000" stroke-width="1.6"/>
<circle cx="665.7" cy="885.6" r="3.0" fill="none" stroke="#000" stroke-width="1.6"/>
<circle cx="680.7" cy="886.1" r="3.0" fill="none" stroke="#000" stroke-width="1.6"/>
<circle cx="685.0" cy="887.2" r="3.0" fill="none" stroke="#000" stroke-width="1.6"/>
<circle cx="660.9" cy="892.4" r="3.0" fill="none" stroke="#000" stroke-width="1.6"/>
<circle cx="680.7" cy="892.4" r="3.0" fill="none" stroke="#000" stroke-width="1.6"/>
<circle cx="669.6" cy="868.5" r="3.0" fill="none" stroke="#000" stroke-width="1.6"/>
<circle cx="669.6" cy="875.5" r="3.0" fill="none" stroke="#000" stroke-width="1.6"/>
<circle cx="669.6" cy="884.5" r="3.0" fill="none" stroke="#000" stroke-width="1.6"/>
<circle cx="676.2" cy="869.0" r="3.0" fill="none" stroke="#000" stroke-width="1.6"/>
<circle cx="676.2" cy="877.0" r="3.0" fill="none" stroke="#000" stroke-width="1.6"/>
<circle cx="676.2" cy="886.0" r="3.0" fill="none" stroke="#000" stroke-width="1.6"/>
<rect x="630.25" y="832.20" width="85.30" height="32.20" fill="none" stroke="#000" stroke-width="4.2"/>
<path d="M630.25 856.30H715.55" stroke="#000" stroke-width="4.4"/>
<path d="M807.90 798.50V888.00" stroke="#000" stroke-width="4.6"/>
<path d="M785.65 798.50H830.15M785.65 888.00H830.15" stroke="#000" stroke-width="4.5"/>
<rect x="765.25" y="838.30" width="85.30" height="30.20" fill="#5b57f5"/>
<rect x="804.95" y="795.75" width="5.5" height="5.5" fill="none" stroke="#000" stroke-width="1.6"/>
<rect x="791.01" y="804.40" width="5.5" height="5.5" fill="none" stroke="#000" stroke-width="1.6"/>
<rect x="800.12" y="808.15" width="5.5" height="5.5" fill="none" stroke="#000" stroke-width="1.6"/>
<rect x="809.77" y="809.76" width="5.5" height="5.5" fill="none" stroke="#000" stroke-width="1.6"/>
<rect x="818.88" y="809.76" width="5.5" height="5.5" fill="none" stroke="#000" stroke-width="1.6"/>
<rect x="800.12" y="823.16" width="5.5" height="5.5" fill="none" stroke="#000" stroke-width="1.6"/>
<rect x="809.77" y="823.16" width="5.5" height="5.5" fill="none" stroke="#000" stroke-width="1.6"/>
<rect x="791.01" y="830.66" width="5.5" height="5.5" fill="none" stroke="#000" stroke-width="1.6"/>
<rect x="800.12" y="830.66" width="5.5" height="5.5" fill="none" stroke="#000" stroke-width="1.6"/>
<rect x="809.77" y="830.66" width="5.5" height="5.5" fill="none" stroke="#000" stroke-width="1.6"/>
<rect x="818.88" y="834.41" width="5.5" height="5.5" fill="none" stroke="#000" stroke-width="1.6"/>
<rect x="791.01" y="838.70" width="5.5" height="5.5" fill="none" stroke="#000" stroke-width="1.6"/>
<rect x="800.12" y="838.70" width="5.5" height="5.5" fill="none" stroke="#000" stroke-width="1.6"/>
<rect x="809.77" y="840.30" width="5.5" height="5.5" fill="none" stroke="#000" stroke-width="1.6"/>
<rect x="809.77" y="846.74" width="5.5" height="5.5" fill="none" stroke="#000" stroke-width="1.6"/>
<rect x="791.01" y="849.42" width="5.5" height="5.5" fill="none" stroke="#000" stroke-width="1.6"/>
<rect x="800.12" y="849.42" width="5.5" height="5.5" fill="none" stroke="#000" stroke-width="1.6"/>
<rect x="818.88" y="851.02" width="5.5" height="5.5" fill="none" stroke="#000" stroke-width="1.6"/>
<rect x="827.99" y="846.74" width="5.5" height="5.5" fill="none" stroke="#000" stroke-width="1.6"/>
<rect x="827.99" y="855.31" width="5.5" height="5.5" fill="none" stroke="#000" stroke-width="1.6"/>
<rect x="772.26" y="862.28" width="5.5" height="5.5" fill="none" stroke="#000" stroke-width="1.6"/>
<rect x="781.90" y="862.28" width="5.5" height="5.5" fill="none" stroke="#000" stroke-width="1.6"/>
<rect x="791.01" y="862.28" width="5.5" height="5.5" fill="none" stroke="#000" stroke-width="1.6"/>
<rect x="800.12" y="862.28" width="5.5" height="5.5" fill="none" stroke="#000" stroke-width="1.6"/>
<rect x="809.77" y="862.28" width="5.5" height="5.5" fill="none" stroke="#000" stroke-width="1.6"/>
<rect x="818.88" y="862.28" width="5.5" height="5.5" fill="none" stroke="#000" stroke-width="1.6"/>
<rect x="827.99" y="862.28" width="5.5" height="5.5" fill="none" stroke="#000" stroke-width="1.6"/>
<rect x="837.10" y="862.28" width="5.5" height="5.5" fill="none" stroke="#000" stroke-width="1.6"/>
<rect x="763.14" y="867.10" width="5.5" height="5.5" fill="none" stroke="#000" stroke-width="1.6"/>
<rect x="772.26" y="866.56" width="5.5" height="5.5" fill="none" stroke="#000" stroke-width="1.6"/>
<rect x="791.01" y="868.71" width="5.5" height="5.5" fill="none" stroke="#000" stroke-width="1.6"/>
<rect x="827.99" y="867.10" width="5.5" height="5.5" fill="none" stroke="#000" stroke-width="1.6"/>
<rect x="846.21" y="866.56" width="5.5" height="5.5" fill="none" stroke="#000" stroke-width="1.6"/>
<rect x="809.77" y="870.32" width="5.5" height="5.5" fill="none" stroke="#000" stroke-width="1.6"/>
<rect x="818.88" y="870.32" width="5.5" height="5.5" fill="none" stroke="#000" stroke-width="1.6"/>
<rect x="781.37" y="875.67" width="5.5" height="5.5" fill="none" stroke="#000" stroke-width="1.6"/>
<rect x="791.01" y="875.14" width="5.5" height="5.5" fill="none" stroke="#000" stroke-width="1.6"/>
<rect x="800.12" y="875.14" width="5.5" height="5.5" fill="none" stroke="#000" stroke-width="1.6"/>
<rect x="827.99" y="875.14" width="5.5" height="5.5" fill="none" stroke="#000" stroke-width="1.6"/>
<rect x="809.77" y="879.96" width="5.5" height="5.5" fill="none" stroke="#000" stroke-width="1.6"/>
<rect x="818.88" y="879.96" width="5.5" height="5.5" fill="none" stroke="#000" stroke-width="1.6"/>
<rect x="791.01" y="885.25" width="5.5" height="5.5" fill="none" stroke="#000" stroke-width="1.6"/>
<rect x="765.25" y="838.30" width="85.30" height="30.20" fill="none" stroke="#000" stroke-width="4.2"/>
<path d="M765.25 860.60H850.55" stroke="#000" stroke-width="4.4"/>
<text x="59.80" y="1064.00" font-family="Liberation Sans, sans-serif" font-size="41" letter-spacing="0.885" fill="#000">(E) Atherogenic index</text>
<text transform="translate(38.70,1251.90) rotate(-90)" text-anchor="middle" font-family="Liberation Sans, sans-serif" font-weight="bold" font-size="26" letter-spacing="0.2" fill="#000">Atherogenic index</text>
<path d="M84.70 1095.30V1411.50H400.90" fill="none" stroke="#000" stroke-width="3.2" stroke-linejoin="miter" stroke-linecap="butt"/>
<path d="M71.20 1411.50H84.70" stroke="#000" stroke-width="3.2"/>
<text x="67.80" y="1420.62" text-anchor="end" font-family="Liberation Sans, sans-serif" font-weight="bold" font-size="26.5" fill="#000">0</text>
<path d="M71.20 1332.83H84.70" stroke="#000" stroke-width="3.2"/>
<text x="67.80" y="1341.94" text-anchor="end" font-family="Liberation Sans, sans-serif" font-weight="bold" font-size="26.5" fill="#000">2</text>
<path d="M71.20 1254.15H84.70" stroke="#000" stroke-width="3.2"/>
<text x="67.80" y="1263.27" text-anchor="end" font-family="Liberation Sans, sans-serif" font-weight="bold" font-size="26.5" fill="#000">4</text>
<path d="M71.20 1175.47H84.70" stroke="#000" stroke-width="3.2"/>
<text x="67.80" y="1184.59" text-anchor="end" font-family="Liberation Sans, sans-serif" font-weight="bold" font-size="26.5" fill="#000">6</text>
<path d="M71.20 1096.80H84.70" stroke="#000" stroke-width="3.2"/>
<text x="67.80" y="1105.92" text-anchor="end" font-family="Liberation Sans, sans-serif" font-weight="bold" font-size="26.5" fill="#000">8</text>
<path d="M174.70 1411.50V1425.00" stroke="#000" stroke-width="3.2"/>
<text x="175.20" y="1452.00" text-anchor="middle" font-family="Liberation Sans, sans-serif" font-weight="bold" font-size="26.5" letter-spacing="0.2" fill="#000">RA (n=114)</text>
<path d="M309.50 1411.50V1425.00" stroke="#000" stroke-width="3.2"/>
<text x="310.00" y="1452.00" text-anchor="middle" font-family="Liberation Sans, sans-serif" font-weight="bold" font-size="26.5" letter-spacing="-0.1" fill="#000">HC (n=41)</text>
<path d="M174.70 1126.60V1339.40" stroke="#000" stroke-width="4.6"/>
<path d="M152.45 1126.60H196.95M152.45 1339.40H196.95" stroke="#000" stroke-width="4.5"/>
<rect x="132.05" y="1261.00" width="85.30" height="45.00" fill="#f84141"/>
<circle cx="174.9" cy="1171.3" r="3.0" fill="none" stroke="#000" stroke-width="1.6"/>
<circle cx="171.2" cy="1180.4" r="3.0" fill="none" stroke="#000" stroke-width="1.6"/>
<circle cx="178.4" cy="1183.0" r="3.0" fill="none" stroke="#000" stroke-width="1.6"/>
<circle cx="171.2" cy="1187.3" r="3.0" fill="none" stroke="#000" stroke-width="1.6"/>
<circle cx="171.2" cy="1202.3" r="3.0" fill="none" stroke="#000" stroke-width="1.6"/>
<circle cx="178.4" cy="1207.7" r="3.0" fill="none" stroke="#000" stroke-width="1.6"/>
<circle cx="161.1" cy="1223.2" r="3.0" fill="none" stroke="#000" stroke-width="1.6"/>
<circle cx="166.4" cy="1227.0" r="3.0" fill="none" stroke="#000" stroke-width="1.6"/>
<circle cx="171.2" cy="1225.4" r="3.0" fill="none" stroke="#000" stroke-width="1.6"/>
<circle cx="177.9" cy="1220.0" r="3.0" fill="none" stroke="#000" stroke-width="1.6"/>
<circle cx="183.3" cy="1221.6" r="3.0" fill="none" stroke="#000" stroke-width="1.6"/>
<circle cx="177.9" cy="1228.1" r="3.0" fill="none" stroke="#000" stroke-width="1.6"/>
<circle cx="183.3" cy="1228.6" r="3.0" fill="none" stroke="#000" stroke-width="1.6"/>
<circle cx="171.2" cy="1232.9" r="3.0" fill="none" stroke="#000" stroke-width="1.6"/>
<circle cx="155.1" cy="1244.7" r="3.0" fill="none" stroke="#000" stroke-width="1.6"/>
<circle cx="161.1" cy="1243.1" r="3.0" fill="none" stroke="#000" stroke-width="1.6"/>
<circle cx="166.4" cy="1240.9" r="3.0" fill="none" stroke="#000" stroke-width="1.6"/>
<circle cx="171.2" cy="1243.6" r="3.0" fill="none" stroke="#000" stroke-width="1.6"/>
<circle cx="177.9" cy="1242.0" r="3.0" fill="none" stroke="#000" stroke-width="1.6"/>
<circle cx="183.3" cy="1242.5" r="3.0" fill="none" stroke="#000" stroke-width="1.6"/>
<circle cx="189.0" cy="1243.1" r="3.0" fill="none" stroke="#000" stroke-width="1.6"/>
<circle cx="194.5" cy="1239.8" r="3.0" fill="none" stroke="#000" stroke-width="1.6"/>
<circle cx="166.4" cy="1247.4" r="3.0" fill="none" stroke="#000" stroke-width="1.6"/>
<circle cx="171.2" cy="1250.6" r="3.0" fill="none" stroke="#000" stroke-width="1.6"/>
<circle cx="177.9" cy="1253.8" r="3.0" fill="none" stroke="#000" stroke-width="1.6"/>
<circle cx="182.7" cy="1249.0" r="3.0" fill="none" stroke="#000" stroke-width="1.6"/>
<circle cx="182.7" cy="1255.9" r="3.0" fill="none" stroke="#000" stroke-width="1.6"/>
<circle cx="171.2" cy="1258.1" r="3.0" fill="none" stroke="#000" stroke-width="1.6"/>
<circle cx="166.1" cy="1267.1" r="3.0" fill="none" stroke="#000" stroke-width="1.6"/>
<circle cx="171.2" cy="1270.4" r="3.0" fill="none" stroke="#000" stroke-width="1.6"/>
<circle cx="177.4" cy="1269.3" r="3.0" fill="none" stroke="#000" stroke-width="1.6"/>
<circle cx="182.7" cy="1270.4" r="3.0" fill="none" stroke="#000" stroke-width="1.6"/>
<circle cx="188.6" cy="1267.1" r="3.0" fill="none" stroke="#000" stroke-width="1.6"/>
<circle cx="194.0" cy="1273.0" r="3.0" fill="none" stroke="#000" stroke-width="1.6"/>
<circle cx="199.9" cy="1274.7" r="3.0" fill="none" stroke="#000" stroke-width="1.6"/>
<circle cx="171.2" cy="1278.4" r="3.0" fill="none" stroke="#000" stroke-width="1.6"/>
<circle cx="177.4" cy="1277.3" r="3.0" fill="none" stroke="#000" stroke-width="1.6"/>
<circle cx="210.6" cy="1277.9" r="3.0" fill="none" stroke="#000" stroke-width="1.6"/>
<circle cx="205.2" cy="1280.5" r="3.0" fill="none" stroke="#000" stroke-width="1.6"/>
<circle cx="138.3" cy="1280.5" r="3.0" fill="none" stroke="#000" stroke-width="1.6"/>
<circle cx="144.1" cy="1282.2" r="3.0" fill="none" stroke="#000" stroke-width="1.6"/>
<circle cx="149.5" cy="1280.5" r="3.0" fill="none" stroke="#000" stroke-width="1.6"/>
<circle cx="155.4" cy="1281.6" r="3.0" fill="none" stroke="#000" stroke-width="1.6"/>
<circle cx="161.1" cy="1278.9" r="3.0" fill="none" stroke="#000" stroke-width="1.6"/>
<circle cx="166.1" cy="1282.7" r="3.0" fill="none" stroke="#000" stroke-width="1.6"/>
<circle cx="194.0" cy="1282.7" r="3.0" fill="none" stroke="#000" stroke-width="1.6"/>
<circle cx="199.9" cy="1283.2" r="3.0" fill="none" stroke="#000" stroke-width="1.6"/>
<circle cx="131.8" cy="1285.4" r="3.0" fill="none" stroke="#000" stroke-width="1.6"/>
<circle cx="138.3" cy="1287.5" r="3.0" fill="none" stroke="#000" stroke-width="1.6"/>
<circle cx="149.5" cy="1287.0" r="3.0" fill="none" stroke="#000" stroke-width="1.6"/>
<circle cx="161.1" cy="1287.0" r="3.0" fill="none" stroke="#000" stroke-width="1.6"/>
<circle cx="177.4" cy="1286.4" r="3.0" fill="none" stroke="#000" stroke-width="1.6"/>
<circle cx="188.6" cy="1287.0" r="3.0" fill="none" stroke="#000" stroke-width="1.6"/>
<circle cx="210.6" cy="1287.0" r="3.0" fill="none" stroke="#000" stroke-width="1.6"/>
<circle cx="216.5" cy="1285.4" r="3.0" fill="none" stroke="#000" stroke-width="1.6"/>
<circle cx="144.1" cy="1295.6" r="3.0" fill="none" stroke="#000" stroke-width="1.6"/>
<circle cx="155.4" cy="1296.6" r="3.0" fill="none" stroke="#000" stroke-width="1.6"/>
<circle cx="161.1" cy="1291.8" r="3.0" fill="none" stroke="#000" stroke-width="1.6"/>
<circle cx="166.1" cy="1292.3" r="3.0" fill="none" stroke="#000" stroke-width="1.6"/>
<circle cx="172.0" cy="1295.6" r="3.0" fill="none" stroke="#000" stroke-width="1.6"/>
<circle cx="177.4" cy="1290.7" r="3.0" fill="none" stroke="#000" stroke-width="1.6"/>
<circle cx="182.7" cy="1296.1" r="3.0" fill="none" stroke="#000" stroke-width="1.6"/>
<circle cx="188.6" cy="1296.6" r="3.0" fill="none" stroke="#000" stroke-width="1.6"/>
<circle cx="194.0" cy="1293.9" r="3.0" fill="none" stroke="#000" stroke-width="1.6"/>
<circle cx="199.9" cy="1291.3" r="3.0" fill="none" stroke="#000" stroke-width="1.6"/>
<circle cx="199.9" cy="1296.6" r="3.0" fill="none" stroke="#000" stroke-width="1.6"/>
<circle cx="205.2" cy="1295.6" r="3.0" fill="none" stroke="#000" stroke-width="1.6"/>
<circle cx="144.1" cy="1302.0" r="3.0" fill="none" stroke="#000" stroke-width="1.6"/>
<circle cx="149.5" cy="1300.9" r="3.0" fill="none" stroke="#000" stroke-width="1.6"/>
<circle cx="161.1" cy="1299.8" r="3.0" fill="none" stroke="#000" stroke-width="1.6"/>
<circle cx="166.1" cy="1298.8" r="3.0" fill="none" stroke="#000" stroke-width="1.6"/>
<circle cx="177.4" cy="1301.4" r="3.0" fill="none" stroke="#000" stroke-width="1.6"/>
<circle cx="194.0" cy="1300.9" r="3.0" fill="none" stroke="#000" stroke-width="1.6"/>
<circle cx="138.3" cy="1305.7" r="3.0" fill="none" stroke="#000" stroke-width="1.6"/>
<circle cx="155.4" cy="1305.7" r="3.0" fill="none" stroke="#000" stroke-width="1.6"/>
<circle cx="171.2" cy="1306.3" r="3.0" fill="none" stroke="#000" stroke-width="1.6"/>
<circle cx="188.6" cy="1305.7" r="3.0" fill="none" stroke="#000" stroke-width="1.6"/>
<circle cx="205.2" cy="1305.7" r="3.0" fill="none" stroke="#000" stroke-width="1.6"/>
<circle cx="143.6" cy="1311.6" r="3.0" fill="none" stroke="#000" stroke-width="1.6"/>
<circle cx="149.5" cy="1310.6" r="3.0" fill="none" stroke="#000" stroke-width="1.6"/>
<circle cx="155.4" cy="1312.2" r="3.0" fill="none" stroke="#000" stroke-width="1.6"/>
<circle cx="161.1" cy="1313.8" r="3.0" fill="none" stroke="#000" stroke-width="1.6"/>
<circle cx="171.2" cy="1309.5" r="3.0" fill="none" stroke="#000" stroke-width="1.6"/>
<circle cx="182.7" cy="1312.2" r="3.0" fill="none" stroke="#000" stroke-width="1.6"/>
<circle cx="188.6" cy="1311.6" r="3.0" fill="none" stroke="#000" stroke-width="1.6"/>
<circle cx="194.0" cy="1314.8" r="3.0" fill="none" stroke="#000" stroke-width="1.6"/>
<circle cx="199.9" cy="1311.6" r="3.0" fill="none" stroke="#000" stroke-width="1.6"/>
<circle cx="205.2" cy="1310.6" r="3.0" fill="none" stroke="#000" stroke-width="1.6"/>
<circle cx="210.6" cy="1308.4" r="3.0" fill="none" stroke="#000" stroke-width="1.6"/>
<circle cx="155.4" cy="1318.6" r="3.0" fill="none" stroke="#000" stroke-width="1.6"/>
<circle cx="161.1" cy="1320.2" r="3.0" fill="none" stroke="#000" stroke-width="1.6"/>
<circle cx="166.1" cy="1322.9" r="3.0" fill="none" stroke="#000" stroke-width="1.6"/>
<circle cx="171.2" cy="1315.9" r="3.0" fill="none" stroke="#000" stroke-width="1.6"/>
<circle cx="182.7" cy="1320.2" r="3.0" fill="none" stroke="#000" stroke-width="1.6"/>
<circle cx="188.6" cy="1318.6" r="3.0" fill="none" stroke="#000" stroke-width="1.6"/>
<circle cx="194.0" cy="1322.9" r="3.0" fill="none" stroke="#000" stroke-width="1.6"/>
<circle cx="155.4" cy="1325.6" r="3.0" fill="none" stroke="#000" stroke-width="1.6"/>
<circle cx="161.1" cy="1327.7" r="3.0" fill="none" stroke="#000" stroke-width="1.6"/>
<circle cx="171.2" cy="1328.8" r="3.0" fill="none" stroke="#000" stroke-width="1.6"/>
<circle cx="182.7" cy="1328.2" r="3.0" fill="none" stroke="#000" stroke-width="1.6"/>
<circle cx="188.6" cy="1327.7" r="3.0" fill="none" stroke="#000" stroke-width="1.6"/>
<circle cx="178.4" cy="1335.7" r="3.0" fill="none" stroke="#000" stroke-width="1.6"/>
<circle cx="171.2" cy="1339.4" r="3.0" fill="none" stroke="#000" stroke-width="1.6"/>
<circle cx="174.7" cy="1126.6" r="3.0" fill="none" stroke="#000" stroke-width="1.6"/>
<rect x="132.05" y="1261.00" width="85.30" height="45.00" fill="none" stroke="#000" stroke-width="4.2"/>
<path d="M132.05 1286.80H217.35" stroke="#000" stroke-width="4.4"/>
<path d="M309.50 1200.40V1337.80" stroke="#000" stroke-width="4.6"/>
<path d="M287.25 1200.40H331.75M287.25 1337.80H331.75" stroke="#000" stroke-width="4.5"/>
<rect x="266.85" y="1258.40" width="85.30" height="50.20" fill="#5b57f5"/>
<rect x="306.70" y="1197.65" width="5.5" height="5.5" fill="none" stroke="#000" stroke-width="1.6"/>
<rect x="306.70" y="1225.26" width="5.5" height="5.5" fill="none" stroke="#000" stroke-width="1.6"/>
<rect x="306.70" y="1233.77" width="5.5" height="5.5" fill="none" stroke="#000" stroke-width="1.6"/>
<rect x="281.42" y="1250.18" width="5.5" height="5.5" fill="none" stroke="#000" stroke-width="1.6"/>
<rect x="294.19" y="1244.71" width="5.5" height="5.5" fill="none" stroke="#000" stroke-width="1.6"/>
<rect x="294.19" y="1250.18" width="5.5" height="5.5" fill="none" stroke="#000" stroke-width="1.6"/>
<rect x="319.10" y="1244.71" width="5.5" height="5.5" fill="none" stroke="#000" stroke-width="1.6"/>
<rect x="319.10" y="1250.79" width="5.5" height="5.5" fill="none" stroke="#000" stroke-width="1.6"/>
<rect x="331.87" y="1241.67" width="5.5" height="5.5" fill="none" stroke="#000" stroke-width="1.6"/>
<rect x="331.87" y="1250.18" width="5.5" height="5.5" fill="none" stroke="#000" stroke-width="1.6"/>
<rect x="281.42" y="1270.24" width="5.5" height="5.5" fill="none" stroke="#000" stroke-width="1.6"/>
<rect x="294.19" y="1266.59" width="5.5" height="5.5" fill="none" stroke="#000" stroke-width="1.6"/>
<rect x="306.70" y="1270.24" width="5.5" height="5.5" fill="none" stroke="#000" stroke-width="1.6"/>
<rect x="306.70" y="1277.53" width="5.5" height="5.5" fill="none" stroke="#000" stroke-width="1.6"/>
<rect x="319.10" y="1266.59" width="5.5" height="5.5" fill="none" stroke="#000" stroke-width="1.6"/>
<rect x="331.87" y="1269.63" width="5.5" height="5.5" fill="none" stroke="#000" stroke-width="1.6"/>
<rect x="331.87" y="1282.39" width="5.5" height="5.5" fill="none" stroke="#000" stroke-width="1.6"/>
<rect x="294.19" y="1285.43" width="5.5" height="5.5" fill="none" stroke="#000" stroke-width="1.6"/>
<rect x="306.70" y="1287.25" width="5.5" height="5.5" fill="none" stroke="#000" stroke-width="1.6"/>
<rect x="319.10" y="1287.25" width="5.5" height="5.5" fill="none" stroke="#000" stroke-width="1.6"/>
<rect x="331.87" y="1287.25" width="5.5" height="5.5" fill="none" stroke="#000" stroke-width="1.6"/>
<rect x="269.27" y="1293.33" width="5.5" height="5.5" fill="none" stroke="#000" stroke-width="1.6"/>
<rect x="281.42" y="1293.94" width="5.5" height="5.5" fill="none" stroke="#000" stroke-width="1.6"/>
<rect x="281.42" y="1301.84" width="5.5" height="5.5" fill="none" stroke="#000" stroke-width="1.6"/>
<rect x="294.19" y="1297.59" width="5.5" height="5.5" fill="none" stroke="#000" stroke-width="1.6"/>
<rect x="294.19" y="1302.45" width="5.5" height="5.5" fill="none" stroke="#000" stroke-width="1.6"/>
<rect x="306.70" y="1302.45" width="5.5" height="5.5" fill="none" stroke="#000" stroke-width="1.6"/>
<rect x="319.10" y="1297.59" width="5.5" height="5.5" fill="none" stroke="#000" stroke-width="1.6"/>
<rect x="331.87" y="1297.59" width="5.5" height="5.5" fill="none" stroke="#000" stroke-width="1.6"/>
<rect x="344.63" y="1297.59" width="5.5" height="5.5" fill="none" stroke="#000" stroke-width="1.6"/>
<rect x="269.27" y="1315.82" width="5.5" height="5.5" fill="none" stroke="#000" stroke-width="1.6"/>
<rect x="281.42" y="1316.43" width="5.5" height="5.5" fill="none" stroke="#000" stroke-width="1.6"/>
<rect x="294.19" y="1313.39" width="5.5" height="5.5" fill="none" stroke="#000" stroke-width="1.6"/>
<rect x="294.19" y="1321.90" width="5.5" height="5.5" fill="none" stroke="#000" stroke-width="1.6"/>
<rect x="306.70" y="1317.03" width="5.5" height="5.5" fill="none" stroke="#000" stroke-width="1.6"/>
<rect x="319.10" y="1312.78" width="5.5" height="5.5" fill="none" stroke="#000" stroke-width="1.6"/>
<rect x="319.10" y="1321.90" width="5.5" height="5.5" fill="none" stroke="#000" stroke-width="1.6"/>
<rect x="331.87" y="1317.03" width="5.5" height="5.5" fill="none" stroke="#000" stroke-width="1.6"/>
<rect x="344.63" y="1313.99" width="5.5" height="5.5" fill="none" stroke="#000" stroke-width="1.6"/>
<rect x="306.70" y="1335.05" width="5.5" height="5.5" fill="none" stroke="#000" stroke-width="1.6"/>
<rect x="266.85" y="1258.40" width="85.30" height="50.20" fill="none" stroke="#000" stroke-width="4.2"/>
<path d="M266.85 1291.60H352.15" stroke="#000" stroke-width="4.4"/>
<text x="558.70" y="1064.00" font-family="Liberation Sans, sans-serif" font-size="41" letter-spacing="0.591" fill="#000">(F) HDL-C</text>
<text transform="translate(507.80,1251.50) rotate(-90)" text-anchor="middle" font-family="Liberation Sans, sans-serif" font-weight="bold" font-size="26" letter-spacing="0" fill="#000">HDL-C (mg/dL)</text>
<path d="M582.50 1095.20V1411.50H898.20" fill="none" stroke="#000" stroke-width="3.2" stroke-linejoin="miter" stroke-linecap="butt"/>
<path d="M569.00 1411.50H582.50" stroke="#000" stroke-width="3.2"/>
<text x="565.60" y="1420.62" text-anchor="end" font-family="Liberation Sans, sans-serif" font-weight="bold" font-size="26.5" fill="#000">0</text>
<path d="M569.00 1306.57H582.50" stroke="#000" stroke-width="3.2"/>
<text x="565.60" y="1315.68" text-anchor="end" font-family="Liberation Sans, sans-serif" font-weight="bold" font-size="26.5" fill="#000">50</text>
<path d="M569.00 1201.63H582.50" stroke="#000" stroke-width="3.2"/>
<text x="565.60" y="1210.75" text-anchor="end" font-family="Liberation Sans, sans-serif" font-weight="bold" font-size="26.5" fill="#000">100</text>
<path d="M569.00 1096.70H582.50" stroke="#000" stroke-width="3.2"/>
<text x="565.60" y="1105.82" text-anchor="end" font-family="Liberation Sans, sans-serif" font-weight="bold" font-size="26.5" fill="#000">150</text>
<path d="M671.90 1411.50V1425.00" stroke="#000" stroke-width="3.2"/>
<text x="672.40" y="1452.00" text-anchor="middle" font-family="Liberation Sans, sans-serif" font-weight="bold" font-size="26.5" letter-spacing="0.2" fill="#000">RA (n=114)</text>
<path d="M806.70 1411.50V1425.00" stroke="#000" stroke-width="3.2"/>
<text x="807.20" y="1452.00" text-anchor="middle" font-family="Liberation Sans, sans-serif" font-weight="bold" font-size="26.5" letter-spacing="-0.1" fill="#000">HC (n=41)</text>
<path d="M671.90 1190.40V1369.70" stroke="#000" stroke-width="4.6"/>
<path d="M649.65 1190.40H694.15M649.65 1369.70H694.15" stroke="#000" stroke-width="4.5"/>
<rect x="629.25" y="1264.60" width="85.30" height="40.70" fill="#f84141"/>
<circle cx="671.9" cy="1190.4" r="3.0" fill="none" stroke="#000" stroke-width="1.6"/>
<circle cx="671.9" cy="1197.7" r="3.0" fill="none" stroke="#000" stroke-width="1.6"/>
<circle cx="671.9" cy="1219.7" r="3.0" fill="none" stroke="#000" stroke-width="1.6"/>
<circle cx="664.9" cy="1208.4" r="3.0" fill="none" stroke="#000" stroke-width="1.6"/>
<circle cx="679.1" cy="1213.2" r="3.0" fill="none" stroke="#000" stroke-width="1.6"/>
<circle cx="664.9" cy="1229.8" r="3.0" fill="none" stroke="#000" stroke-width="1.6"/>
<circle cx="679.1" cy="1233.6" r="3.0" fill="none" stroke="#000" stroke-width="1.6"/>
<circle cx="658.2" cy="1236.3" r="3.0" fill="none" stroke="#000" stroke-width="1.6"/>
<circle cx="664.9" cy="1239.5" r="3.0" fill="none" stroke="#000" stroke-width="1.6"/>
<circle cx="658.2" cy="1242.7" r="3.0" fill="none" stroke="#000" stroke-width="1.6"/>
<circle cx="679.1" cy="1242.2" r="3.0" fill="none" stroke="#000" stroke-width="1.6"/>
<circle cx="686.1" cy="1244.8" r="3.0" fill="none" stroke="#000" stroke-width="1.6"/>
<circle cx="664.9" cy="1247.5" r="3.0" fill="none" stroke="#000" stroke-width="1.6"/>
<circle cx="693.1" cy="1250.2" r="3.0" fill="none" stroke="#000" stroke-width="1.6"/>
<circle cx="700.0" cy="1252.3" r="3.0" fill="none" stroke="#000" stroke-width="1.6"/>
<circle cx="679.1" cy="1251.3" r="3.0" fill="none" stroke="#000" stroke-width="1.6"/>
<circle cx="686.1" cy="1252.3" r="3.0" fill="none" stroke="#000" stroke-width="1.6"/>
<circle cx="637.3" cy="1257.2" r="3.0" fill="none" stroke="#000" stroke-width="1.6"/>
<circle cx="644.3" cy="1253.4" r="3.0" fill="none" stroke="#000" stroke-width="1.6"/>
<circle cx="651.3" cy="1256.3" r="3.0" fill="none" stroke="#000" stroke-width="1.6"/>
<circle cx="658.2" cy="1256.3" r="3.0" fill="none" stroke="#000" stroke-width="1.6"/>
<circle cx="664.9" cy="1254.5" r="3.0" fill="none" stroke="#000" stroke-width="1.6"/>
<circle cx="679.1" cy="1258.2" r="3.0" fill="none" stroke="#000" stroke-width="1.6"/>
<circle cx="644.3" cy="1259.8" r="3.0" fill="none" stroke="#000" stroke-width="1.6"/>
<circle cx="664.9" cy="1260.4" r="3.0" fill="none" stroke="#000" stroke-width="1.6"/>
<circle cx="706.5" cy="1262.5" r="3.0" fill="none" stroke="#000" stroke-width="1.6"/>
<circle cx="644.3" cy="1268.2" r="3.0" fill="none" stroke="#000" stroke-width="1.6"/>
<circle cx="658.2" cy="1267.6" r="3.0" fill="none" stroke="#000" stroke-width="1.6"/>
<circle cx="664.9" cy="1268.2" r="3.0" fill="none" stroke="#000" stroke-width="1.6"/>
<circle cx="672.2" cy="1269.3" r="3.0" fill="none" stroke="#000" stroke-width="1.6"/>
<circle cx="679.1" cy="1270.9" r="3.0" fill="none" stroke="#000" stroke-width="1.6"/>
<circle cx="686.1" cy="1266.6" r="3.0" fill="none" stroke="#000" stroke-width="1.6"/>
<circle cx="693.1" cy="1268.2" r="3.0" fill="none" stroke="#000" stroke-width="1.6"/>
<circle cx="700.0" cy="1268.7" r="3.0" fill="none" stroke="#000" stroke-width="1.6"/>
<circle cx="637.3" cy="1271.9" r="3.0" fill="none" stroke="#000" stroke-width="1.6"/>
<circle cx="637.3" cy="1278.4" r="3.0" fill="none" stroke="#000" stroke-width="1.6"/>
<circle cx="644.3" cy="1277.8" r="3.0" fill="none" stroke="#000" stroke-width="1.6"/>
<circle cx="651.3" cy="1277.8" r="3.0" fill="none" stroke="#000" stroke-width="1.6"/>
<circle cx="664.9" cy="1274.6" r="3.0" fill="none" stroke="#000" stroke-width="1.6"/>
<circle cx="672.2" cy="1276.2" r="3.0" fill="none" stroke="#000" stroke-width="1.6"/>
<circle cx="679.1" cy="1277.8" r="3.0" fill="none" stroke="#000" stroke-width="1.6"/>
<circle cx="686.1" cy="1274.6" r="3.0" fill="none" stroke="#000" stroke-width="1.6"/>
<circle cx="700.0" cy="1277.3" r="3.0" fill="none" stroke="#000" stroke-width="1.6"/>
<circle cx="706.5" cy="1270.9" r="3.0" fill="none" stroke="#000" stroke-width="1.6"/>
<circle cx="706.5" cy="1277.8" r="3.0" fill="none" stroke="#000" stroke-width="1.6"/>
<circle cx="630.4" cy="1281.0" r="3.0" fill="none" stroke="#000" stroke-width="1.6"/>
<circle cx="658.2" cy="1283.7" r="3.0" fill="none" stroke="#000" stroke-width="1.6"/>
<circle cx="672.2" cy="1283.2" r="3.0" fill="none" stroke="#000" stroke-width="1.6"/>
<circle cx="692.5" cy="1281.0" r="3.0" fill="none" stroke="#000" stroke-width="1.6"/>
<circle cx="644.3" cy="1283.7" r="3.0" fill="none" stroke="#000" stroke-width="1.6"/>
<circle cx="686.1" cy="1284.3" r="3.0" fill="none" stroke="#000" stroke-width="1.6"/>
<circle cx="637.3" cy="1290.7" r="3.0" fill="none" stroke="#000" stroke-width="1.6"/>
<circle cx="644.3" cy="1289.6" r="3.0" fill="none" stroke="#000" stroke-width="1.6"/>
<circle cx="651.3" cy="1286.4" r="3.0" fill="none" stroke="#000" stroke-width="1.6"/>
<circle cx="664.9" cy="1290.7" r="3.0" fill="none" stroke="#000" stroke-width="1.6"/>
<circle cx="672.2" cy="1291.8" r="3.0" fill="none" stroke="#000" stroke-width="1.6"/>
<circle cx="679.1" cy="1286.9" r="3.0" fill="none" stroke="#000" stroke-width="1.6"/>
<circle cx="706.5" cy="1289.1" r="3.0" fill="none" stroke="#000" stroke-width="1.6"/>
<circle cx="637.3" cy="1298.2" r="3.0" fill="none" stroke="#000" stroke-width="1.6"/>
<circle cx="644.3" cy="1296.0" r="3.0" fill="none" stroke="#000" stroke-width="1.6"/>
<circle cx="651.3" cy="1295.0" r="3.0" fill="none" stroke="#000" stroke-width="1.6"/>
<circle cx="658.2" cy="1298.2" r="3.0" fill="none" stroke="#000" stroke-width="1.6"/>
<circle cx="672.2" cy="1299.3" r="3.0" fill="none" stroke="#000" stroke-width="1.6"/>
<circle cx="679.1" cy="1295.0" r="3.0" fill="none" stroke="#000" stroke-width="1.6"/>
<circle cx="686.1" cy="1295.5" r="3.0" fill="none" stroke="#000" stroke-width="1.6"/>
<circle cx="693.1" cy="1296.6" r="3.0" fill="none" stroke="#000" stroke-width="1.6"/>
<circle cx="700.0" cy="1298.2" r="3.0" fill="none" stroke="#000" stroke-width="1.6"/>
<circle cx="706.5" cy="1298.2" r="3.0" fill="none" stroke="#000" stroke-width="1.6"/>
<circle cx="651.3" cy="1301.4" r="3.0" fill="none" stroke="#000" stroke-width="1.6"/>
<circle cx="664.9" cy="1302.5" r="3.0" fill="none" stroke="#000" stroke-width="1.6"/>
<circle cx="693.1" cy="1301.9" r="3.0" fill="none" stroke="#000" stroke-width="1.6"/>
<circle cx="630.4" cy="1310.0" r="3.0" fill="none" stroke="#000" stroke-width="1.6"/>
<circle cx="644.3" cy="1309.4" r="3.0" fill="none" stroke="#000" stroke-width="1.6"/>
<circle cx="651.3" cy="1310.0" r="3.0" fill="none" stroke="#000" stroke-width="1.6"/>
<circle cx="658.2" cy="1310.5" r="3.0" fill="none" stroke="#000" stroke-width="1.6"/>
<circle cx="664.9" cy="1311.6" r="3.0" fill="none" stroke="#000" stroke-width="1.6"/>
<circle cx="679.1" cy="1309.4" r="3.0" fill="none" stroke="#000" stroke-width="1.6"/>
<circle cx="714.0" cy="1310.5" r="3.0" fill="none" stroke="#000" stroke-width="1.6"/>
<circle cx="630.4" cy="1316.4" r="3.0" fill="none" stroke="#000" stroke-width="1.6"/>
<circle cx="637.3" cy="1313.7" r="3.0" fill="none" stroke="#000" stroke-width="1.6"/>
<circle cx="644.3" cy="1319.6" r="3.0" fill="none" stroke="#000" stroke-width="1.6"/>
<circle cx="651.3" cy="1318.6" r="3.0" fill="none" stroke="#000" stroke-width="1.6"/>
<circle cx="658.2" cy="1322.3" r="3.0" fill="none" stroke="#000" stroke-width="1.6"/>
<circle cx="664.9" cy="1319.6" r="3.0" fill="none" stroke="#000" stroke-width="1.6"/>
<circle cx="679.1" cy="1316.4" r="3.0" fill="none" stroke="#000" stroke-width="1.6"/>
<circle cx="686.1" cy="1313.7" r="3.0" fill="none" stroke="#000" stroke-width="1.6"/>
<circle cx="693.1" cy="1319.6" r="3.0" fill="none" stroke="#000" stroke-width="1.6"/>
<circle cx="700.0" cy="1314.3" r="3.0" fill="none" stroke="#000" stroke-width="1.6"/>
<circle cx="706.5" cy="1314.3" r="3.0" fill="none" stroke="#000" stroke-width="1.6"/>
<circle cx="714.0" cy="1319.1" r="3.0" fill="none" stroke="#000" stroke-width="1.6"/>
<circle cx="679.1" cy="1322.8" r="3.0" fill="none" stroke="#000" stroke-width="1.6"/>
<circle cx="686.1" cy="1320.2" r="3.0" fill="none" stroke="#000" stroke-width="1.6"/>
<circle cx="651.3" cy="1327.7" r="3.0" fill="none" stroke="#000" stroke-width="1.6"/>
<circle cx="664.9" cy="1332.5" r="3.0" fill="none" stroke="#000" stroke-width="1.6"/>
<circle cx="679.1" cy="1330.3" r="3.0" fill="none" stroke="#000" stroke-width="1.6"/>
<circle cx="686.1" cy="1329.3" r="3.0" fill="none" stroke="#000" stroke-width="1.6"/>
<circle cx="693.1" cy="1331.4" r="3.0" fill="none" stroke="#000" stroke-width="1.6"/>
<circle cx="672.2" cy="1323.4" r="3.0" fill="none" stroke="#000" stroke-width="1.6"/>
<circle cx="671.9" cy="1369.7" r="3.0" fill="none" stroke="#000" stroke-width="1.6"/>
<rect x="629.25" y="1264.60" width="85.30" height="40.70" fill="none" stroke="#000" stroke-width="4.2"/>
<path d="M629.25 1283.30H714.55" stroke="#000" stroke-width="4.4"/>
<path d="M806.70 1202.10V1321.60" stroke="#000" stroke-width="4.6"/>
<path d="M784.45 1202.10H828.95M784.45 1321.60H828.95" stroke="#000" stroke-width="4.5"/>
<rect x="764.05" y="1256.50" width="85.30" height="46.60" fill="#5b57f5"/>
<rect x="804.20" y="1199.35" width="5.5" height="5.5" fill="none" stroke="#000" stroke-width="1.6"/>
<rect x="797.44" y="1223.33" width="5.5" height="5.5" fill="none" stroke="#000" stroke-width="1.6"/>
<rect x="810.30" y="1223.33" width="5.5" height="5.5" fill="none" stroke="#000" stroke-width="1.6"/>
<rect x="778.69" y="1242.09" width="5.5" height="5.5" fill="none" stroke="#000" stroke-width="1.6"/>
<rect x="791.33" y="1242.09" width="5.5" height="5.5" fill="none" stroke="#000" stroke-width="1.6"/>
<rect x="766.36" y="1246.91" width="5.5" height="5.5" fill="none" stroke="#000" stroke-width="1.6"/>
<rect x="841.92" y="1246.91" width="5.5" height="5.5" fill="none" stroke="#000" stroke-width="1.6"/>
<rect x="778.69" y="1250.13" width="5.5" height="5.5" fill="none" stroke="#000" stroke-width="1.6"/>
<rect x="791.33" y="1250.13" width="5.5" height="5.5" fill="none" stroke="#000" stroke-width="1.6"/>
<rect x="804.20" y="1249.59" width="5.5" height="5.5" fill="none" stroke="#000" stroke-width="1.6"/>
<rect x="816.74" y="1249.59" width="5.5" height="5.5" fill="none" stroke="#000" stroke-width="1.6"/>
<rect x="829.06" y="1250.13" width="5.5" height="5.5" fill="none" stroke="#000" stroke-width="1.6"/>
<rect x="791.33" y="1266.20" width="5.5" height="5.5" fill="none" stroke="#000" stroke-width="1.6"/>
<rect x="804.20" y="1263.53" width="5.5" height="5.5" fill="none" stroke="#000" stroke-width="1.6"/>
<rect x="804.20" y="1271.03" width="5.5" height="5.5" fill="none" stroke="#000" stroke-width="1.6"/>
<rect x="816.74" y="1271.56" width="5.5" height="5.5" fill="none" stroke="#000" stroke-width="1.6"/>
<rect x="829.06" y="1264.06" width="5.5" height="5.5" fill="none" stroke="#000" stroke-width="1.6"/>
<rect x="778.69" y="1269.96" width="5.5" height="5.5" fill="none" stroke="#000" stroke-width="1.6"/>
<rect x="778.69" y="1275.85" width="5.5" height="5.5" fill="none" stroke="#000" stroke-width="1.6"/>
<rect x="829.06" y="1275.85" width="5.5" height="5.5" fill="none" stroke="#000" stroke-width="1.6"/>
<rect x="791.33" y="1279.07" width="5.5" height="5.5" fill="none" stroke="#000" stroke-width="1.6"/>
<rect x="816.74" y="1280.67" width="5.5" height="5.5" fill="none" stroke="#000" stroke-width="1.6"/>
<rect x="791.33" y="1287.11" width="5.5" height="5.5" fill="none" stroke="#000" stroke-width="1.6"/>
<rect x="778.69" y="1290.32" width="5.5" height="5.5" fill="none" stroke="#000" stroke-width="1.6"/>
<rect x="766.36" y="1293.00" width="5.5" height="5.5" fill="none" stroke="#000" stroke-width="1.6"/>
<rect x="766.36" y="1298.36" width="5.5" height="5.5" fill="none" stroke="#000" stroke-width="1.6"/>
<rect x="791.33" y="1298.90" width="5.5" height="5.5" fill="none" stroke="#000" stroke-width="1.6"/>
<rect x="804.20" y="1296.22" width="5.5" height="5.5" fill="none" stroke="#000" stroke-width="1.6"/>
<rect x="816.74" y="1296.22" width="5.5" height="5.5" fill="none" stroke="#000" stroke-width="1.6"/>
<rect x="829.06" y="1295.68" width="5.5" height="5.5" fill="none" stroke="#000" stroke-width="1.6"/>
<rect x="841.92" y="1295.68" width="5.5" height="5.5" fill="none" stroke="#000" stroke-width="1.6"/>
<rect x="766.36" y="1305.86" width="5.5" height="5.5" fill="none" stroke="#000" stroke-width="1.6"/>
<rect x="778.69" y="1308.01" width="5.5" height="5.5" fill="none" stroke="#000" stroke-width="1.6"/>
<rect x="791.33" y="1309.61" width="5.5" height="5.5" fill="none" stroke="#000" stroke-width="1.6"/>
<rect x="816.74" y="1307.47" width="5.5" height="5.5" fill="none" stroke="#000" stroke-width="1.6"/>
<rect x="778.69" y="1314.44" width="5.5" height="5.5" fill="none" stroke="#000" stroke-width="1.6"/>
<rect x="816.74" y="1313.36" width="5.5" height="5.5" fill="none" stroke="#000" stroke-width="1.6"/>
<rect x="841.92" y="1311.22" width="5.5" height="5.5" fill="none" stroke="#000" stroke-width="1.6"/>
<rect x="829.06" y="1318.72" width="5.5" height="5.5" fill="none" stroke="#000" stroke-width="1.6"/>
<rect x="804.20" y="1307.47" width="5.5" height="5.5" fill="none" stroke="#000" stroke-width="1.6"/>
<rect x="804.20" y="1313.36" width="5.5" height="5.5" fill="none" stroke="#000" stroke-width="1.6"/>
<rect x="764.05" y="1256.50" width="85.30" height="46.60" fill="none" stroke="#000" stroke-width="4.2"/>
<path d="M764.05 1283.10H849.35" stroke="#000" stroke-width="4.4"/>
<path d="M187.3 81.35H321.8" stroke="#000" stroke-width="3.0"/>
<path d="M235.90 52.50L235.90 66.50M229.84 56.00L241.96 63.00M229.84 63.00L241.96 56.00M254.60 52.50L254.60 66.50M248.54 56.00L260.66 63.00M248.54 63.00L260.66 56.00M273.20 52.50L273.20 66.50M267.14 56.00L279.26 63.00M267.14 63.00L279.26 56.00" stroke="#000" stroke-width="3.6" fill="none"/>
</svg></body></html>
